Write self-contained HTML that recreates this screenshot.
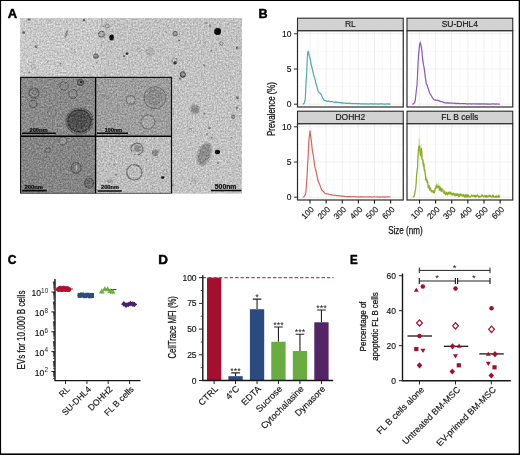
<!DOCTYPE html>
<html><head><meta charset="utf-8"><title>Figure</title>
<style>
html,body{margin:0;padding:0;background:#fff;}
body{width:520px;height:455px;overflow:hidden;}
svg{display:block;font-family:"Liberation Sans", sans-serif;}
.lbl{font-weight:bold;font-size:12.1px;fill:#000;stroke:#000;stroke-width:0.45px;stroke-linejoin:round;}
.tk{font-size:8.5px;fill:#111;stroke:#111;stroke-width:0.15px;}
.ax{stroke:#161616;fill:none;}
</style></head><body>
<svg width="520" height="455" viewBox="0 0 520 455">
<defs>
<filter id="grain" x="0" y="0" width="100%" height="100%" color-interpolation-filters="sRGB">
<feTurbulence type="fractalNoise" baseFrequency="0.63 0.58" numOctaves="3" seed="11" result="n"/>
<feColorMatrix in="n" type="matrix" values="1 0 0 0 0  1 0 0 0 0  1 0 0 0 0  0 0 0 0 1" result="g"/>
<feGaussianBlur in="SourceGraphic" stdDeviation="0.5" result="b"/>
<feComposite in="b" in2="g" operator="arithmetic" k1="0" k2="1" k3="0.38" k4="-0.19" result="c"/>
<feGaussianBlur in="c" stdDeviation="0.45"/>
</filter>
<clipPath id="cA"><rect x="20" y="18" width="222" height="175.5"/></clipPath>
</defs>
<rect x="0" y="0" width="520" height="455" fill="#fff"/>

<g id="panelA">
<text class="lbl" x="0" y="0" transform="translate(7.8,17.8) scale(1.07,1)">A</text>
<g clip-path="url(#cA)"><g filter="url(#grain)">
<rect x="20" y="18" width="222" height="175.5" fill="#c2c2c2"/>
<rect x="20" y="18" width="80" height="60" fill="#c8c8c8"/>
<ellipse cx="111.6" cy="37.5" rx="2.3" ry="3" fill="#111"/>
<ellipse cx="101.5" cy="34.2" rx="3" ry="3" fill="#aaa" stroke="#666" stroke-width="1"/>
<ellipse cx="107.3" cy="26" rx="2" ry="2" fill="#bbb" stroke="#777" stroke-width="0.8"/>
<ellipse cx="66.3" cy="34" rx="1.2" ry="4" fill="#888" transform="rotate(20 66.3 34)"/>
<ellipse cx="95.9" cy="56.2" rx="2.5" ry="2.5" fill="#888" stroke="#666" stroke-width="0.8"/>
<ellipse cx="127" cy="53.6" rx="1.3" ry="1.3" fill="#333"/>
<ellipse cx="124" cy="56" rx="1" ry="1" fill="#555"/>
<ellipse cx="23.7" cy="32.5" rx="1.3" ry="1.3" fill="#555"/>
<ellipse cx="36" cy="46.7" rx="1.5" ry="1.5" fill="#777"/>
<ellipse cx="33" cy="66.5" rx="2" ry="2" fill="#c4c4c4" stroke="#999" stroke-width="0.7"/>
<ellipse cx="73" cy="51" rx="2.2" ry="2.2" fill="#c8c8c8" stroke="#a5a5a5" stroke-width="0.7"/>
<ellipse cx="84" cy="20" rx="1.2" ry="1.2" fill="#666"/>
<ellipse cx="29" cy="19.5" rx="1.5" ry="1" fill="#666"/>
<ellipse cx="217.6" cy="31.6" rx="3.5" ry="3.5" fill="#0a0a0a"/>
<ellipse cx="175.2" cy="33.7" rx="2.3" ry="2.3" fill="#999" stroke="#666" stroke-width="0.9"/>
<ellipse cx="175" cy="62.7" rx="1.8" ry="1.5" fill="#222"/>
<ellipse cx="174.5" cy="60.5" rx="2.6" ry="2.6" fill="none" stroke="#777" stroke-width="0.8"/>
<ellipse cx="182.8" cy="74.6" rx="2.6" ry="2.8" fill="#888" stroke="#444" stroke-width="1"/>
<ellipse cx="150" cy="51.8" rx="4.5" ry="4.5" fill="#aaa" opacity="0.8"/>
<ellipse cx="221.3" cy="43.5" rx="1.6" ry="1.8" fill="#bbb" stroke="#777" stroke-width="0.8"/>
<ellipse cx="237.2" cy="48" rx="1.5" ry="1.5" fill="#777"/>
<ellipse cx="210" cy="26" rx="1.3" ry="2" fill="#999"/>
<ellipse cx="139" cy="50" rx="2" ry="2" fill="#c4c4c4" stroke="#999" stroke-width="0.7"/>
<ellipse cx="179" cy="40.5" rx="1" ry="1" fill="#666"/>
<ellipse cx="204.3" cy="154.2" rx="5.8" ry="10.8" fill="#787878" transform="rotate(20 204.3 154.2)"/>
<ellipse cx="204.3" cy="154.2" rx="7.5" ry="12.5" fill="#989898" transform="rotate(20 204.3 154.2)" opacity="0.6"/>
<ellipse cx="217.5" cy="152" rx="2.6" ry="2.3" fill="#0d0d0d"/>
<ellipse cx="195" cy="109.3" rx="4" ry="4" fill="#7c7c7c"/>
<ellipse cx="195" cy="109.3" rx="5.5" ry="5.5" fill="#999" opacity="0.5"/>
<ellipse cx="233.3" cy="116.7" rx="1.8" ry="1.8" fill="#999" stroke="#666" stroke-width="0.8"/>
<ellipse cx="237.3" cy="97.4" rx="1.5" ry="1.5" fill="#777"/>
<ellipse cx="237" cy="108" rx="1.4" ry="1.4" fill="#888"/>
<ellipse cx="204.5" cy="113.5" rx="1" ry="1" fill="#666"/>
<ellipse cx="209.5" cy="128" rx="1.2" ry="1.2" fill="#777"/>
<ellipse cx="207" cy="134" rx="1" ry="1" fill="#888"/>
<ellipse cx="190" cy="130" rx="1.8" ry="1.8" fill="#c2c2c2" stroke="#a0a0a0" stroke-width="0.6"/>
<ellipse cx="193" cy="180" rx="1.8" ry="1.8" fill="#c2c2c2" stroke="#a0a0a0" stroke-width="0.6"/>
<ellipse cx="180" cy="79" rx="1.5" ry="1.5" fill="#888"/>
<ellipse cx="218" cy="163" rx="1" ry="1" fill="#888"/>
<ellipse cx="195.4" cy="181.2" rx="0.94" ry="0.94" fill="#8a8a8a"/>
<ellipse cx="205.2" cy="152.7" rx="0.65" ry="0.65" fill="#8a8a8a"/>
<ellipse cx="218.4" cy="39.4" rx="0.78" ry="0.78" fill="#9c9c9c"/>
<ellipse cx="105.0" cy="37.4" rx="0.65" ry="0.65" fill="#9c9c9c"/>
<ellipse cx="111.0" cy="51.1" rx="1.02" ry="1.02" fill="#a6a6a6"/>
<ellipse cx="49.6" cy="20.3" rx="1.02" ry="1.02" fill="#9c9c9c"/>
<ellipse cx="190.6" cy="184.2" rx="0.6" ry="0.6" fill="#9c9c9c"/>
<ellipse cx="172.6" cy="185.3" rx="1.04" ry="1.04" fill="#7c7c7c"/>
<ellipse cx="226.0" cy="65.1" rx="0.7" ry="0.7" fill="#8a8a8a"/>
<ellipse cx="60.4" cy="63.8" rx="1.06" ry="1.06" fill="#7c7c7c"/>
<ellipse cx="206.2" cy="23.1" rx="0.97" ry="0.97" fill="#7c7c7c"/>
<ellipse cx="47.9" cy="62.1" rx="0.99" ry="0.99" fill="#a6a6a6"/>
<ellipse cx="195.8" cy="167.0" rx="0.52" ry="0.52" fill="#8a8a8a"/>
<ellipse cx="101.1" cy="45.3" rx="0.67" ry="0.67" fill="#8a8a8a"/>
<ellipse cx="90.1" cy="74.2" rx="0.61" ry="0.61" fill="#8a8a8a"/>
<ellipse cx="179.0" cy="33.8" rx="0.86" ry="0.86" fill="#a6a6a6"/>
<ellipse cx="97.0" cy="62.8" rx="0.89" ry="0.89" fill="#9c9c9c"/>
<ellipse cx="204.8" cy="42.3" rx="0.94" ry="0.94" fill="#9c9c9c"/>
<ellipse cx="239.8" cy="165.7" rx="1.09" ry="1.09" fill="#a6a6a6"/>
<ellipse cx="231.3" cy="137.8" rx="0.69" ry="0.69" fill="#7c7c7c"/>
<ellipse cx="237.5" cy="184.1" rx="0.88" ry="0.88" fill="#a6a6a6"/>
<ellipse cx="211.2" cy="50.8" rx="0.8" ry="0.8" fill="#7c7c7c"/>
<ellipse cx="29.5" cy="72.3" rx="0.84" ry="0.84" fill="#7c7c7c"/>
<ellipse cx="204.1" cy="65.3" rx="1.09" ry="1.09" fill="#7c7c7c"/>
<ellipse cx="230.6" cy="78.2" rx="0.61" ry="0.61" fill="#8a8a8a"/>
<ellipse cx="93.0" cy="66.8" rx="0.67" ry="0.67" fill="#7c7c7c"/>
<ellipse cx="182.8" cy="161.6" rx="0.71" ry="0.71" fill="#9c9c9c"/>
<ellipse cx="211.6" cy="137.7" rx="1.09" ry="1.09" fill="#7c7c7c"/>
<ellipse cx="226.3" cy="101.6" rx="0.91" ry="0.91" fill="#a6a6a6"/>
<ellipse cx="190.9" cy="128.9" rx="0.93" ry="0.93" fill="#8a8a8a"/>
<ellipse cx="158.0" cy="50.9" rx="0.96" ry="0.96" fill="#9c9c9c"/>
<ellipse cx="159.5" cy="27.2" rx="0.78" ry="0.78" fill="#9c9c9c"/>
<ellipse cx="166.4" cy="32.3" rx="0.62" ry="0.62" fill="#7c7c7c"/>
<ellipse cx="103.5" cy="26.2" rx="0.87" ry="0.87" fill="#8a8a8a"/>
<ellipse cx="229.3" cy="70.1" rx="0.71" ry="0.71" fill="#9c9c9c"/>
<ellipse cx="233.0" cy="124.1" rx="0.71" ry="0.71" fill="#8a8a8a"/>
<ellipse cx="105.2" cy="75.8" rx="1.05" ry="1.05" fill="#9c9c9c"/>
<ellipse cx="234.9" cy="104.4" rx="0.79" ry="0.79" fill="#a6a6a6"/>
<ellipse cx="183.5" cy="71.4" rx="0.65" ry="0.65" fill="#8a8a8a"/>
<rect x="20" y="77" width="76" height="59" fill="#8a8a8a"/>
<rect x="95" y="77" width="77" height="59" fill="#9e9e9e"/>
<rect x="20" y="135.5" width="76" height="58" fill="#858585"/>
<rect x="95" y="135.5" width="77" height="58" fill="#bdbdbd"/>
<ellipse cx="79.5" cy="121" rx="13.5" ry="13" fill="#7c7c7c" stroke="#5a5a5a" stroke-width="1.1"/>
<ellipse cx="79.5" cy="121" rx="11.5" ry="11" fill="#5a5a5a" stroke="#3c3c3c" stroke-width="1.6"/>
<ellipse cx="79" cy="120" rx="8.5" ry="8" fill="#4c4c4c"/>
<ellipse cx="64" cy="86" rx="4.2" ry="4.2" fill="none" stroke="#5a5a5a" stroke-width="0.9"/>
<ellipse cx="73" cy="94" rx="4.2" ry="4.5" fill="none" stroke="#5a5a5a" stroke-width="0.9"/>
<ellipse cx="80.5" cy="82.5" rx="3" ry="3" fill="#777" stroke="#4a4a4a" stroke-width="1.1"/>
<ellipse cx="81" cy="82" rx="1.3" ry="1.3" fill="#333"/>
<ellipse cx="34" cy="93" rx="5" ry="5" fill="none" stroke="#5a5a5a" stroke-width="1.2"/>
<ellipse cx="34.5" cy="92.5" rx="2.2" ry="2.2" fill="none" stroke="#666" stroke-width="0.9"/>
<ellipse cx="33" cy="104" rx="4" ry="3.6" fill="none" stroke="#5e5e5e" stroke-width="1.1"/>
<ellipse cx="52" cy="112" rx="4.5" ry="5" fill="none" stroke="#777" stroke-width="0.8"/>
<ellipse cx="155" cy="97.7" rx="11" ry="11" fill="#969696" stroke="#6a6a6a" stroke-width="1"/>
<ellipse cx="154.5" cy="97.5" rx="7" ry="7.5" fill="#8c8c8c" stroke="#757575" stroke-width="0.8"/>
<ellipse cx="130.8" cy="100" rx="4.5" ry="4.2" fill="#acacac" stroke="#6e6e6e" stroke-width="1.2"/>
<ellipse cx="148" cy="122" rx="7" ry="7" fill="#a6a6a6" stroke="#747474" stroke-width="1.1"/>
<ellipse cx="105" cy="96" rx="5" ry="1" fill="#8a8a8a" transform="rotate(15 105 96)"/>
<ellipse cx="63" cy="141" rx="4" ry="4" fill="#959595" stroke="#636363" stroke-width="1"/>
<ellipse cx="48" cy="150" rx="2.6" ry="2.6" fill="#7a7a7a" stroke="#686868" stroke-width="0.8"/>
<ellipse cx="76" cy="168" rx="5" ry="5.5" fill="#7a7a7a" stroke="#5a5a5a" stroke-width="1.2"/>
<ellipse cx="76.5" cy="168" rx="0.8" ry="3" fill="#bbb"/>
<ellipse cx="89" cy="183" rx="4.5" ry="5" fill="#6e6e6e" stroke="#5a5a5a" stroke-width="1.2"/>
<ellipse cx="34" cy="180" rx="5" ry="4" fill="#808080" opacity="0.8"/>
<ellipse cx="137" cy="149" rx="6" ry="5.8" fill="#b8b8b8" stroke="#707070" stroke-width="1.3"/>
<ellipse cx="137.5" cy="148.5" rx="3.6" ry="3.4" fill="#8e8e8e"/>
<ellipse cx="134.3" cy="172.3" rx="7.6" ry="7.6" fill="#bcbcbc" stroke="#747474" stroke-width="1.4"/>
<ellipse cx="155.3" cy="152.8" rx="3" ry="3" fill="#888" stroke="#777" stroke-width="0.6"/>
<ellipse cx="162.9" cy="177.5" rx="2" ry="1.6" fill="#222"/>
<ellipse cx="165" cy="172" rx="2.2" ry="2.2" fill="#c4c4c4" stroke="#8a8a8a" stroke-width="0.8"/>
<ellipse cx="110" cy="181" rx="3" ry="2" fill="#999"/>
<ellipse cx="147" cy="160" rx="1.2" ry="1.2" fill="#888"/>
<ellipse cx="114" cy="165" rx="1" ry="1" fill="#888"/>
<ellipse cx="116" cy="175" rx="1" ry="1" fill="#808080"/>
<ellipse cx="133.4" cy="152.9" rx="1.48" ry="1.48" fill="#cacaca" stroke="#adadad" stroke-width="0.5"/>
<ellipse cx="106.8" cy="170.3" rx="1.44" ry="1.44" fill="#cacaca" stroke="#adadad" stroke-width="0.5"/>
<ellipse cx="119.1" cy="178.6" rx="1.83" ry="1.83" fill="#cacaca" stroke="#adadad" stroke-width="0.5"/>
<ellipse cx="99.0" cy="165.7" rx="1.27" ry="1.27" fill="#cacaca" stroke="#adadad" stroke-width="0.5"/>
<ellipse cx="165.3" cy="178.7" rx="1.25" ry="1.25" fill="#cacaca" stroke="#adadad" stroke-width="0.5"/>
<ellipse cx="117.3" cy="146.0" rx="1.99" ry="1.99" fill="#cacaca" stroke="#adadad" stroke-width="0.5"/>
<ellipse cx="119.1" cy="169.6" rx="1.47" ry="1.47" fill="#cacaca" stroke="#adadad" stroke-width="0.5"/>
<ellipse cx="144.4" cy="169.4" rx="1.74" ry="1.74" fill="#cacaca" stroke="#adadad" stroke-width="0.5"/>
<ellipse cx="106.5" cy="177.5" rx="1.3" ry="1.3" fill="#cacaca" stroke="#adadad" stroke-width="0.5"/>
<ellipse cx="136.4" cy="155.5" rx="1.3" ry="1.3" fill="#cacaca" stroke="#adadad" stroke-width="0.5"/>
<ellipse cx="136.2" cy="162.1" rx="1.36" ry="1.36" fill="#cacaca" stroke="#adadad" stroke-width="0.5"/>
<ellipse cx="151.6" cy="168.7" rx="1.04" ry="1.04" fill="#cacaca" stroke="#adadad" stroke-width="0.5"/>
<ellipse cx="116.2" cy="161.7" rx="1.92" ry="1.92" fill="#cacaca" stroke="#adadad" stroke-width="0.5"/>
<ellipse cx="161.9" cy="166.4" rx="1.01" ry="1.01" fill="#cacaca" stroke="#adadad" stroke-width="0.5"/>
<ellipse cx="154.0" cy="160.2" rx="1.58" ry="1.58" fill="#cacaca" stroke="#adadad" stroke-width="0.5"/>
<ellipse cx="149.0" cy="170.9" rx="1.48" ry="1.48" fill="#cacaca" stroke="#adadad" stroke-width="0.5"/>
<ellipse cx="163.6" cy="158.0" rx="1.39" ry="1.39" fill="#cacaca" stroke="#adadad" stroke-width="0.5"/>
<ellipse cx="159.3" cy="148.2" rx="1.3" ry="1.3" fill="#cacaca" stroke="#adadad" stroke-width="0.5"/>
<ellipse cx="157.8" cy="141.4" rx="1.84" ry="1.84" fill="#cacaca" stroke="#adadad" stroke-width="0.5"/>
<ellipse cx="148.0" cy="160.5" rx="1.29" ry="1.29" fill="#cacaca" stroke="#adadad" stroke-width="0.5"/>
<ellipse cx="154.2" cy="185.4" rx="1.14" ry="1.14" fill="#cacaca" stroke="#adadad" stroke-width="0.5"/>
<ellipse cx="132.4" cy="166.6" rx="1.5" ry="1.5" fill="#cacaca" stroke="#adadad" stroke-width="0.5"/>
<ellipse cx="121.8" cy="146.0" rx="1.59" ry="1.59" fill="#cacaca" stroke="#adadad" stroke-width="0.5"/>
<ellipse cx="156.5" cy="141.6" rx="1.23" ry="1.23" fill="#cacaca" stroke="#adadad" stroke-width="0.5"/>
<ellipse cx="157.0" cy="179.2" rx="1.66" ry="1.66" fill="#cacaca" stroke="#adadad" stroke-width="0.5"/>
</g>
<rect x="20.5" y="77.4" width="151" height="116.1" fill="none" stroke="#111" stroke-width="1.2"/>
<line x1="95.6" y1="77" x2="95.6" y2="193.5" stroke="#000" stroke-width="1.3"/>
<line x1="20.5" y1="136.3" x2="171.5" y2="136.3" stroke="#000" stroke-width="1.4"/>
<line x1="22" y1="133.3" x2="55.8" y2="133.3" stroke="#0a0a0a" stroke-width="1.6"/>
<text x="38.5" y="131.6" font-size="5.6" font-weight="bold" fill="#0a0a0a" stroke="#0a0a0a" stroke-width="0.2" text-anchor="middle" textLength="18" lengthAdjust="spacingAndGlyphs">200nm</text>
<line x1="97" y1="133.3" x2="128" y2="133.3" stroke="#0a0a0a" stroke-width="1.6"/>
<text x="113.5" y="131.6" font-size="5.6" font-weight="bold" fill="#0a0a0a" stroke="#0a0a0a" stroke-width="0.2" text-anchor="middle" textLength="17.5" lengthAdjust="spacingAndGlyphs">100nm</text>
<line x1="22.2" y1="190.6" x2="46.8" y2="190.6" stroke="#0a0a0a" stroke-width="1.6"/>
<text x="33.8" y="188.8" font-size="5.6" font-weight="bold" fill="#0a0a0a" stroke="#0a0a0a" stroke-width="0.2" text-anchor="middle" textLength="18.5" lengthAdjust="spacingAndGlyphs">200nm</text>
<line x1="97.7" y1="191" x2="121.7" y2="191" stroke="#0a0a0a" stroke-width="1.6"/>
<text x="110" y="189.2" font-size="5.6" font-weight="bold" fill="#0a0a0a" stroke="#0a0a0a" stroke-width="0.2" text-anchor="middle" textLength="18" lengthAdjust="spacingAndGlyphs">200nm</text>
<line x1="211" y1="190.5" x2="241.5" y2="190.5" stroke="#0a0a0a" stroke-width="1.6"/>
<text x="225.6" y="188.6" font-size="7.2" font-weight="bold" fill="#0a0a0a" stroke="#0a0a0a" stroke-width="0.2" text-anchor="middle" textLength="21.5" lengthAdjust="spacingAndGlyphs">500nm</text>
</g></g>
<g id="panelB">
<text class="lbl" x="0" y="0" transform="translate(258.5,17.8) scale(1.04,1)">B</text>
<rect x="297.5" y="18.2" width="105.75" height="12.6" fill="#d2d2d2" stroke="#2a2a2a" stroke-width="1.1"/>
<text x="350.375" y="27.1" font-size="8.5" fill="#111" stroke="#111" stroke-width="0.15" text-anchor="middle">RL</text>
<rect x="297.5" y="30.799999999999997" width="105.75" height="76.2" fill="#fff"/>
<line x1="301.94" y1="30.799999999999997" x2="301.94" y2="107.0" stroke="#f2f2f2" stroke-width="0.5"/>
<line x1="310.00" y1="30.799999999999997" x2="310.00" y2="107.0" stroke="#e9e9e9" stroke-width="0.7"/>
<line x1="318.06" y1="30.799999999999997" x2="318.06" y2="107.0" stroke="#f2f2f2" stroke-width="0.5"/>
<line x1="326.12" y1="30.799999999999997" x2="326.12" y2="107.0" stroke="#e9e9e9" stroke-width="0.7"/>
<line x1="334.18" y1="30.799999999999997" x2="334.18" y2="107.0" stroke="#f2f2f2" stroke-width="0.5"/>
<line x1="342.24" y1="30.799999999999997" x2="342.24" y2="107.0" stroke="#e9e9e9" stroke-width="0.7"/>
<line x1="350.30" y1="30.799999999999997" x2="350.30" y2="107.0" stroke="#f2f2f2" stroke-width="0.5"/>
<line x1="358.36" y1="30.799999999999997" x2="358.36" y2="107.0" stroke="#e9e9e9" stroke-width="0.7"/>
<line x1="366.42" y1="30.799999999999997" x2="366.42" y2="107.0" stroke="#f2f2f2" stroke-width="0.5"/>
<line x1="374.48" y1="30.799999999999997" x2="374.48" y2="107.0" stroke="#e9e9e9" stroke-width="0.7"/>
<line x1="382.54" y1="30.799999999999997" x2="382.54" y2="107.0" stroke="#f2f2f2" stroke-width="0.5"/>
<line x1="390.60" y1="30.799999999999997" x2="390.60" y2="107.0" stroke="#e9e9e9" stroke-width="0.7"/>
<line x1="398.66" y1="30.799999999999997" x2="398.66" y2="107.0" stroke="#f2f2f2" stroke-width="0.5"/>
<line x1="297.5" y1="104.20" x2="403.25" y2="104.20" stroke="#e9e9e9" stroke-width="0.7"/>
<line x1="297.5" y1="86.60" x2="403.25" y2="86.60" stroke="#f2f2f2" stroke-width="0.5"/>
<line x1="297.5" y1="69.00" x2="403.25" y2="69.00" stroke="#e9e9e9" stroke-width="0.7"/>
<line x1="297.5" y1="51.40" x2="403.25" y2="51.40" stroke="#f2f2f2" stroke-width="0.5"/>
<line x1="297.5" y1="33.80" x2="403.25" y2="33.80" stroke="#e9e9e9" stroke-width="0.7"/>
<path d="M302.75,103.70 L303.23,103.68 L303.71,103.39 L304.20,102.50 L304.68,101.07 L305.16,99.57 L305.65,90.89 L306.13,78.86 L306.61,72.62 L307.10,61.19 L307.58,52.14 L308.07,49.36 L308.55,49.42 L309.03,51.38 L309.52,54.59 L310.00,54.46 L310.48,57.81 L310.97,60.59 L311.45,63.49 L311.93,64.89 L312.42,67.59 L312.90,69.70 L313.39,71.68 L313.87,74.18 L314.35,75.56 L314.84,77.32 L315.32,78.94 L315.80,81.37 L316.29,83.05 L316.77,85.14 L317.25,86.88 L317.74,88.25 L318.22,90.35 L318.70,91.75 L319.19,92.15 L319.67,92.34 L320.16,92.36 L320.64,93.18 L321.12,93.57 L321.61,94.34 L322.09,96.14 L322.57,97.79 L323.06,97.88 L323.54,98.84 L324.02,99.79 L324.51,99.85 L324.99,100.07 L325.48,100.21 L325.96,100.26 L326.44,100.52 L326.93,101.06 L327.41,100.75 L327.89,100.64 L328.38,100.41 L328.86,100.92 L329.34,100.97 L329.83,101.32 L330.31,100.98 L330.79,101.04 L331.28,101.40 L331.76,101.35 L332.25,101.14 L332.73,101.07 L333.21,101.59 L333.70,101.65 L334.18,101.96 L334.66,101.75 L335.15,101.32 L335.63,101.95 L336.11,101.70 L336.60,101.57 L337.08,101.76 L337.57,101.70 L338.05,102.05 L338.53,101.96 L339.02,101.88 L339.50,102.31 L339.98,101.96 L340.47,102.41 L340.95,102.73 L341.43,102.12 L341.92,102.28 L342.40,102.60 L342.88,102.51 L343.37,102.45 L343.85,102.41 L344.34,102.82 L344.82,102.80 L345.30,102.64 L345.79,103.12 L346.27,102.91 L346.75,102.55 L347.24,103.07 L347.72,103.08 L348.20,102.84 L348.69,103.08 L349.17,102.63 L349.66,103.30 L350.14,102.80 L350.62,103.08 L351.11,103.26 L351.59,102.99 L352.07,102.98 L352.56,103.25 L353.04,103.09 L353.52,103.32 L354.01,103.12 L354.49,103.53 L354.97,103.38 L355.46,103.28 L355.94,103.14 L356.43,103.18 L356.91,103.25 L357.39,103.00 L357.88,103.52 L358.36,103.31 L358.84,103.39 L359.33,103.11 L359.81,103.18 L360.29,103.60 L360.78,103.29 L361.26,103.47 L361.75,103.43 L362.23,103.53 L362.71,103.76 L363.20,103.48 L363.68,103.67 L364.16,103.45 L364.65,103.48 L365.13,103.68 L365.61,103.44 L366.10,103.49 L366.58,103.61 L367.06,103.31 L367.55,103.54 L368.03,103.68 L368.52,103.55 L369.00,103.52 L369.48,103.49 L369.97,103.34 L370.45,103.30 L370.93,103.74 L371.42,103.59 L371.90,103.50 L372.38,103.60 L372.87,103.22 L373.35,103.49 L373.84,103.60 L374.32,103.41 L374.80,103.20 L375.29,103.46 L375.77,103.79 L376.25,103.52 L376.74,103.76 L377.22,103.60 L377.70,103.74 L378.19,103.50 L378.67,103.81 L379.15,103.67 L379.64,103.42 L380.12,103.39 L380.61,103.36 L381.09,103.75 L381.57,103.64 L382.06,103.43 L382.54,103.57 L383.02,103.68 L383.51,103.69 L383.99,103.69 L384.47,103.58 L384.96,103.60 L385.44,103.97 L385.93,103.47 L386.41,103.47 L386.89,103.56 L387.38,103.53 L387.86,103.61 L388.34,103.87 L388.83,103.58 L389.31,103.43 L389.79,103.59 L390.28,103.57 L390.28,104.20 L389.79,104.20 L389.31,104.20 L388.83,104.20 L388.34,104.20 L387.86,104.20 L387.38,104.07 L386.89,104.20 L386.41,104.20 L385.93,104.20 L385.44,104.20 L384.96,104.20 L384.47,104.20 L383.99,104.20 L383.51,104.20 L383.02,104.20 L382.54,104.13 L382.06,104.20 L381.57,104.20 L381.09,104.20 L380.61,104.18 L380.12,104.11 L379.64,104.20 L379.15,104.20 L378.67,104.20 L378.19,104.20 L377.70,104.20 L377.22,104.20 L376.74,104.20 L376.25,104.11 L375.77,104.20 L375.29,104.05 L374.80,104.05 L374.32,104.18 L373.84,104.20 L373.35,104.20 L372.87,104.08 L372.38,104.20 L371.90,104.15 L371.42,104.17 L370.93,104.20 L370.45,103.94 L369.97,104.20 L369.48,104.20 L369.00,104.20 L368.52,104.20 L368.03,104.20 L367.55,104.18 L367.06,104.20 L366.58,104.19 L366.10,104.10 L365.61,104.18 L365.13,104.20 L364.65,104.16 L364.16,104.20 L363.68,104.15 L363.20,104.10 L362.71,104.20 L362.23,104.15 L361.75,104.20 L361.26,104.20 L360.78,104.00 L360.29,104.20 L359.81,104.04 L359.33,104.06 L358.84,103.88 L358.36,104.09 L357.88,104.20 L357.39,103.80 L356.91,103.92 L356.43,103.91 L355.94,103.91 L355.46,104.01 L354.97,103.82 L354.49,104.04 L354.01,103.82 L353.52,104.00 L353.04,104.08 L352.56,103.87 L352.07,103.90 L351.59,103.91 L351.11,103.78 L350.62,103.73 L350.14,103.62 L349.66,103.97 L349.17,103.70 L348.69,103.63 L348.20,103.53 L347.72,103.51 L347.24,103.70 L346.75,103.41 L346.27,103.80 L345.79,103.84 L345.30,103.25 L344.82,103.29 L344.34,103.31 L343.85,103.18 L343.37,103.14 L342.88,103.48 L342.40,103.14 L341.92,103.15 L341.43,103.00 L340.95,103.45 L340.47,103.12 L339.98,103.08 L339.50,103.15 L339.02,102.81 L338.53,102.73 L338.05,102.58 L337.57,102.67 L337.08,102.83 L336.60,102.70 L336.11,102.38 L335.63,102.87 L335.15,102.20 L334.66,102.55 L334.18,102.68 L333.70,102.57 L333.21,102.34 L332.73,102.22 L332.25,101.93 L331.76,102.12 L331.28,102.00 L330.79,102.23 L330.31,101.91 L329.83,102.28 L329.34,101.84 L328.86,101.88 L328.38,101.48 L327.89,101.49 L327.41,101.58 L326.93,101.63 L326.44,101.64 L325.96,101.44 L325.48,101.02 L324.99,100.86 L324.51,100.94 L324.02,100.69 L323.54,99.65 L323.06,98.70 L322.57,98.45 L322.09,97.73 L321.61,96.11 L321.12,95.33 L320.64,94.17 L320.16,94.09 L319.67,93.71 L319.19,93.50 L318.70,93.24 L318.22,92.11 L317.74,90.64 L317.25,88.56 L316.77,87.07 L316.29,85.92 L315.80,83.98 L315.32,82.43 L314.84,79.56 L314.35,79.30 L313.87,76.63 L313.39,75.32 L312.90,72.73 L312.42,71.48 L311.93,69.05 L311.45,66.80 L310.97,65.89 L310.48,62.06 L310.00,59.77 L309.52,59.15 L309.03,57.97 L308.55,54.67 L308.07,52.86 L307.58,55.72 L307.10,65.08 L306.61,75.07 L306.13,81.92 L305.65,91.86 L305.16,100.62 L304.68,101.72 L304.20,103.40 L303.71,104.10 L303.23,104.20 L302.75,104.20Z" fill="#4cacb5" opacity="0.35"/>
<path d="M302.75,104.20 L303.23,104.06 L303.71,103.88 L304.20,103.06 L304.68,101.31 L305.16,99.98 L305.65,91.38 L306.13,80.86 L306.61,74.19 L307.10,63.24 L307.58,54.03 L308.07,51.48 L308.55,52.18 L309.03,55.17 L309.52,56.65 L310.00,57.88 L310.48,60.45 L310.97,63.55 L311.45,65.73 L311.93,67.48 L312.42,69.59 L312.90,71.28 L313.39,73.85 L313.87,75.79 L314.35,77.44 L314.84,78.64 L315.32,80.99 L315.80,83.13 L316.29,84.81 L316.77,86.04 L317.25,87.43 L317.74,89.63 L318.22,91.29 L318.70,92.25 L319.19,92.76 L319.67,93.07 L320.16,93.31 L320.64,93.62 L321.12,94.44 L321.61,95.31 L322.09,97.06 L322.57,98.12 L323.06,98.35 L323.54,99.33 L324.02,100.36 L324.51,100.50 L324.99,100.59 L325.48,100.69 L325.96,100.99 L326.44,101.09 L326.93,101.33 L327.41,101.08 L327.89,101.16 L328.38,101.05 L328.86,101.49 L329.34,101.38 L329.83,101.71 L330.31,101.37 L330.79,101.73 L331.28,101.76 L331.76,101.61 L332.25,101.64 L332.73,101.76 L333.21,101.99 L333.70,102.19 L334.18,102.24 L334.66,102.21 L335.15,101.97 L335.63,102.33 L336.11,102.09 L336.60,102.18 L337.08,102.39 L337.57,102.37 L338.05,102.31 L338.53,102.27 L339.02,102.48 L339.50,102.66 L339.98,102.59 L340.47,102.87 L340.95,102.98 L341.43,102.69 L341.92,102.83 L342.40,102.90 L342.88,103.10 L343.37,102.85 L343.85,102.97 L344.34,103.07 L344.82,103.02 L345.30,103.02 L345.79,103.42 L346.27,103.49 L346.75,103.13 L347.24,103.47 L347.72,103.30 L348.20,103.16 L348.69,103.41 L349.17,103.22 L349.66,103.59 L350.14,103.22 L350.62,103.38 L351.11,103.56 L351.59,103.59 L352.07,103.44 L352.56,103.58 L353.04,103.63 L353.52,103.65 L354.01,103.55 L354.49,103.82 L354.97,103.61 L355.46,103.59 L355.94,103.67 L356.43,103.69 L356.91,103.51 L357.39,103.52 L357.88,103.92 L358.36,103.85 L358.84,103.60 L359.33,103.62 L359.81,103.66 L360.29,103.96 L360.78,103.74 L361.26,104.03 L361.75,103.83 L362.23,103.87 L362.71,103.96 L363.20,103.89 L363.68,103.92 L364.16,103.96 L364.65,103.91 L365.13,104.08 L365.61,103.80 L366.10,103.77 L366.58,103.88 L367.06,103.85 L367.55,103.98 L368.03,104.07 L368.52,104.04 L369.00,103.97 L369.48,103.95 L369.97,103.86 L370.45,103.71 L370.93,104.02 L371.42,103.80 L371.90,103.82 L372.38,104.06 L372.87,103.72 L373.35,104.03 L373.84,104.09 L374.32,103.87 L374.80,103.76 L375.29,103.82 L375.77,104.03 L376.25,103.76 L376.74,104.00 L377.22,104.07 L377.70,104.10 L378.19,103.92 L378.67,104.10 L379.15,104.08 L379.64,103.91 L380.12,103.79 L380.61,103.84 L381.09,104.05 L381.57,103.87 L382.06,103.99 L382.54,103.81 L383.02,103.98 L383.51,104.08 L383.99,104.05 L384.47,104.07 L384.96,104.03 L385.44,104.16 L385.93,103.99 L386.41,104.03 L386.89,103.90 L387.38,103.84 L387.86,104.00 L388.34,104.20 L388.83,104.09 L389.31,103.95 L389.79,104.06 L390.28,103.99" fill="none" stroke="#4cacb5" stroke-width="1.2" stroke-linejoin="round"/>
<rect x="297.5" y="30.799999999999997" width="105.75" height="76.2" fill="none" stroke="#2a2a2a" stroke-width="1.2"/>
<line x1="294.0" y1="104.20" x2="297.5" y2="104.20" stroke="#2a2a2a" stroke-width="1"/>
<text class="tk" x="291.5" y="107.30" text-anchor="end">0</text>
<line x1="294.0" y1="69.00" x2="297.5" y2="69.00" stroke="#2a2a2a" stroke-width="1"/>
<text class="tk" x="291.5" y="72.10" text-anchor="end">5</text>
<line x1="294.0" y1="33.80" x2="297.5" y2="33.80" stroke="#2a2a2a" stroke-width="1"/>
<text class="tk" x="291.5" y="36.90" text-anchor="end">10</text>
<rect x="407" y="18.2" width="105.75" height="12.6" fill="#d2d2d2" stroke="#2a2a2a" stroke-width="1.1"/>
<text x="459.875" y="27.1" font-size="8.5" fill="#111" stroke="#111" stroke-width="0.15" text-anchor="middle">SU-DHL4</text>
<rect x="407" y="30.799999999999997" width="105.75" height="76.2" fill="#fff"/>
<line x1="411.44" y1="30.799999999999997" x2="411.44" y2="107.0" stroke="#f2f2f2" stroke-width="0.5"/>
<line x1="419.50" y1="30.799999999999997" x2="419.50" y2="107.0" stroke="#e9e9e9" stroke-width="0.7"/>
<line x1="427.56" y1="30.799999999999997" x2="427.56" y2="107.0" stroke="#f2f2f2" stroke-width="0.5"/>
<line x1="435.62" y1="30.799999999999997" x2="435.62" y2="107.0" stroke="#e9e9e9" stroke-width="0.7"/>
<line x1="443.68" y1="30.799999999999997" x2="443.68" y2="107.0" stroke="#f2f2f2" stroke-width="0.5"/>
<line x1="451.74" y1="30.799999999999997" x2="451.74" y2="107.0" stroke="#e9e9e9" stroke-width="0.7"/>
<line x1="459.80" y1="30.799999999999997" x2="459.80" y2="107.0" stroke="#f2f2f2" stroke-width="0.5"/>
<line x1="467.86" y1="30.799999999999997" x2="467.86" y2="107.0" stroke="#e9e9e9" stroke-width="0.7"/>
<line x1="475.92" y1="30.799999999999997" x2="475.92" y2="107.0" stroke="#f2f2f2" stroke-width="0.5"/>
<line x1="483.98" y1="30.799999999999997" x2="483.98" y2="107.0" stroke="#e9e9e9" stroke-width="0.7"/>
<line x1="492.04" y1="30.799999999999997" x2="492.04" y2="107.0" stroke="#f2f2f2" stroke-width="0.5"/>
<line x1="500.10" y1="30.799999999999997" x2="500.10" y2="107.0" stroke="#e9e9e9" stroke-width="0.7"/>
<line x1="508.16" y1="30.799999999999997" x2="508.16" y2="107.0" stroke="#f2f2f2" stroke-width="0.5"/>
<line x1="407" y1="104.20" x2="512.75" y2="104.20" stroke="#e9e9e9" stroke-width="0.7"/>
<line x1="407" y1="86.60" x2="512.75" y2="86.60" stroke="#f2f2f2" stroke-width="0.5"/>
<line x1="407" y1="69.00" x2="512.75" y2="69.00" stroke="#e9e9e9" stroke-width="0.7"/>
<line x1="407" y1="51.40" x2="512.75" y2="51.40" stroke="#f2f2f2" stroke-width="0.5"/>
<line x1="407" y1="33.80" x2="512.75" y2="33.80" stroke="#e9e9e9" stroke-width="0.7"/>
<path d="M412.25,103.74 L412.73,103.65 L413.21,103.65 L413.70,103.37 L414.18,102.83 L414.66,102.01 L415.15,100.40 L415.63,96.51 L416.11,91.29 L416.60,87.60 L417.08,84.12 L417.57,72.64 L418.05,60.59 L418.53,52.16 L419.02,46.81 L419.50,41.90 L419.98,41.12 L420.47,40.14 L420.95,42.23 L421.43,45.06 L421.92,49.00 L422.40,54.35 L422.89,58.84 L423.37,61.73 L423.85,64.51 L424.34,68.07 L424.82,71.15 L425.30,75.89 L425.79,79.29 L426.27,82.38 L426.75,83.14 L427.24,84.05 L427.72,85.81 L428.20,87.77 L428.69,89.32 L429.17,90.74 L429.66,92.57 L430.14,93.41 L430.62,93.94 L431.11,94.99 L431.59,95.26 L432.07,96.93 L432.56,97.22 L433.04,97.90 L433.52,98.75 L434.01,99.33 L434.49,99.43 L434.98,99.70 L435.46,99.55 L435.94,99.99 L436.43,100.16 L436.91,100.18 L437.39,99.61 L437.88,99.72 L438.36,100.10 L438.84,99.97 L439.33,100.50 L439.81,101.00 L440.29,100.97 L440.78,101.45 L441.26,101.33 L441.75,101.45 L442.23,101.20 L442.71,101.61 L443.20,101.83 L443.68,102.03 L444.16,101.93 L444.65,102.15 L445.13,102.50 L445.61,102.39 L446.10,102.68 L446.58,102.58 L447.07,102.76 L447.55,102.47 L448.03,102.66 L448.52,102.51 L449.00,102.93 L449.48,102.44 L449.97,102.78 L450.45,102.53 L450.93,102.85 L451.42,102.91 L451.90,102.54 L452.38,102.81 L452.87,103.02 L453.35,102.74 L453.84,103.00 L454.32,102.94 L454.80,103.40 L455.29,102.83 L455.77,103.30 L456.25,103.08 L456.74,103.31 L457.22,103.19 L457.70,103.16 L458.19,103.13 L458.67,102.88 L459.16,103.39 L459.64,103.05 L460.12,103.24 L460.61,103.01 L461.09,103.13 L461.57,103.13 L462.06,103.24 L462.54,103.31 L463.02,103.45 L463.51,103.14 L463.99,103.40 L464.47,103.26 L464.96,103.38 L465.44,103.42 L465.93,103.51 L466.41,103.59 L466.89,103.57 L467.38,103.47 L467.86,103.73 L468.34,103.38 L468.83,103.52 L469.31,103.71 L469.79,103.56 L470.28,103.49 L470.76,103.34 L471.25,103.78 L471.73,103.84 L472.21,103.44 L472.70,103.67 L473.18,103.63 L473.66,103.45 L474.15,103.53 L474.63,103.43 L475.11,103.59 L475.60,103.64 L476.08,103.44 L476.56,103.74 L477.05,103.56 L477.53,103.52 L478.02,103.84 L478.50,103.78 L478.98,103.32 L479.47,103.43 L479.95,103.89 L480.43,103.60 L480.92,103.60 L481.40,103.61 L481.88,103.59 L482.37,103.58 L482.85,103.46 L483.34,103.38 L483.82,103.70 L484.30,103.75 L484.79,103.51 L485.27,103.60 L485.75,103.98 L486.24,103.59 L486.72,103.58 L487.20,103.68 L487.69,103.72 L488.17,103.62 L488.65,103.93 L489.14,103.80 L489.62,103.88 L490.11,103.80 L490.59,103.99 L491.07,103.64 L491.56,103.58 L492.04,103.55 L492.52,103.53 L493.01,103.72 L493.49,103.64 L493.97,103.35 L494.46,103.76 L494.94,104.00 L495.43,103.74 L495.91,103.68 L496.39,103.76 L496.88,103.90 L497.36,103.79 L497.84,103.81 L498.33,103.85 L498.81,103.88 L499.29,103.73 L499.78,103.67 L499.78,104.20 L499.29,104.20 L498.81,104.20 L498.33,104.20 L497.84,104.20 L497.36,104.20 L496.88,104.20 L496.39,104.11 L495.91,104.10 L495.43,104.20 L494.94,104.20 L494.46,104.20 L493.97,104.18 L493.49,104.20 L493.01,104.20 L492.52,104.09 L492.04,104.16 L491.56,104.20 L491.07,104.20 L490.59,104.20 L490.11,104.20 L489.62,104.20 L489.14,104.20 L488.65,104.20 L488.17,104.20 L487.69,104.20 L487.20,104.20 L486.72,104.17 L486.24,104.20 L485.75,104.20 L485.27,104.20 L484.79,104.06 L484.30,104.20 L483.82,104.20 L483.34,104.17 L482.85,104.20 L482.37,104.20 L481.88,104.20 L481.40,104.20 L480.92,104.18 L480.43,104.13 L479.95,104.20 L479.47,104.13 L478.98,104.04 L478.50,104.20 L478.02,104.20 L477.53,104.05 L477.05,104.20 L476.56,104.20 L476.08,104.04 L475.60,104.20 L475.11,104.09 L474.63,104.06 L474.15,104.10 L473.66,104.09 L473.18,104.20 L472.70,104.20 L472.21,104.01 L471.73,104.20 L471.25,104.20 L470.76,103.98 L470.28,104.10 L469.79,104.12 L469.31,104.07 L468.83,104.02 L468.34,104.07 L467.86,104.20 L467.38,104.14 L466.89,104.20 L466.41,104.20 L465.93,104.10 L465.44,103.99 L464.96,103.94 L464.47,104.01 L463.99,103.96 L463.51,103.92 L463.02,103.90 L462.54,104.10 L462.06,103.80 L461.57,103.87 L461.09,103.87 L460.61,103.84 L460.12,103.84 L459.64,103.74 L459.16,103.89 L458.67,103.63 L458.19,103.81 L457.70,103.81 L457.22,103.69 L456.74,104.07 L456.25,103.70 L455.77,103.89 L455.29,103.43 L454.80,104.00 L454.32,103.44 L453.84,103.47 L453.35,103.56 L452.87,103.57 L452.38,103.33 L451.90,103.41 L451.42,103.57 L450.93,103.57 L450.45,103.27 L449.97,103.31 L449.48,103.28 L449.00,103.36 L448.52,103.25 L448.03,103.34 L447.55,103.06 L447.07,103.33 L446.58,103.17 L446.10,103.32 L445.61,103.24 L445.13,103.15 L444.65,102.99 L444.16,102.82 L443.68,102.82 L443.20,102.48 L442.71,102.26 L442.23,102.02 L441.75,102.20 L441.26,102.02 L440.78,102.03 L440.29,101.52 L439.81,101.64 L439.33,101.17 L438.84,100.82 L438.36,101.03 L437.88,100.44 L437.39,100.83 L436.91,100.89 L436.43,100.67 L435.94,100.65 L435.46,100.33 L434.98,100.46 L434.49,100.16 L434.01,100.02 L433.52,99.61 L433.04,99.13 L432.56,98.52 L432.07,97.71 L431.59,96.39 L431.11,95.83 L430.62,95.14 L430.14,94.59 L429.66,93.93 L429.17,91.96 L428.69,90.79 L428.20,88.93 L427.72,87.91 L427.24,86.12 L426.75,85.21 L426.27,84.41 L425.79,81.35 L425.30,78.99 L424.82,74.65 L424.34,70.43 L423.85,67.94 L423.37,66.19 L422.89,62.53 L422.40,58.17 L421.92,52.76 L421.43,50.46 L420.95,48.56 L420.47,45.53 L419.98,45.97 L419.50,47.67 L419.02,53.05 L418.53,57.11 L418.05,64.83 L417.57,75.19 L417.08,85.70 L416.60,88.74 L416.11,93.02 L415.63,97.52 L415.15,100.98 L414.66,102.89 L414.18,103.50 L413.70,103.93 L413.21,104.20 L412.73,104.20 L412.25,104.20Z" fill="#8c5ab4" opacity="0.35"/>
<path d="M412.25,104.20 L412.73,104.08 L413.21,103.92 L413.70,103.73 L414.18,103.14 L414.66,102.56 L415.15,100.75 L415.63,97.09 L416.11,92.35 L416.60,88.27 L417.08,84.79 L417.57,74.30 L418.05,62.97 L418.53,54.86 L419.02,50.29 L419.50,45.11 L419.98,43.79 L420.47,42.73 L420.95,45.71 L421.43,47.67 L421.92,51.26 L422.40,56.87 L422.89,60.33 L423.37,64.38 L423.85,66.28 L424.34,69.38 L424.82,73.26 L425.30,77.65 L425.79,80.12 L426.27,83.65 L426.75,84.60 L427.24,85.43 L427.72,87.14 L428.20,88.25 L428.69,90.32 L429.17,91.16 L429.66,93.13 L430.14,93.89 L430.62,94.32 L431.11,95.34 L431.59,96.03 L432.07,97.24 L432.56,97.90 L433.04,98.61 L433.52,99.12 L434.01,99.62 L434.49,99.73 L434.98,100.18 L435.46,99.90 L435.94,100.23 L436.43,100.42 L436.91,100.45 L437.39,100.30 L437.88,100.06 L438.36,100.60 L438.84,100.51 L439.33,100.95 L439.81,101.40 L440.29,101.28 L440.78,101.76 L441.26,101.73 L441.75,101.74 L442.23,101.69 L442.71,102.04 L443.20,102.23 L443.68,102.53 L444.16,102.47 L444.65,102.71 L445.13,102.94 L445.61,102.88 L446.10,103.03 L446.58,102.84 L447.07,103.05 L447.55,102.68 L448.03,103.06 L448.52,102.96 L449.00,103.15 L449.48,102.86 L449.97,102.97 L450.45,102.97 L450.93,103.20 L451.42,103.27 L451.90,103.00 L452.38,103.09 L452.87,103.29 L453.35,103.24 L453.84,103.21 L454.32,103.16 L454.80,103.61 L455.29,103.22 L455.77,103.56 L456.25,103.40 L456.74,103.67 L457.22,103.39 L457.70,103.42 L458.19,103.54 L458.67,103.32 L459.16,103.71 L459.64,103.52 L460.12,103.57 L460.61,103.50 L461.09,103.62 L461.57,103.52 L462.06,103.49 L462.54,103.70 L463.02,103.62 L463.51,103.60 L463.99,103.57 L464.47,103.63 L464.96,103.58 L465.44,103.65 L465.93,103.74 L466.41,103.96 L466.89,103.92 L467.38,103.96 L467.86,104.06 L468.34,103.79 L468.83,103.80 L469.31,103.88 L469.79,103.79 L470.28,103.78 L470.76,103.79 L471.25,104.06 L471.73,104.01 L472.21,103.72 L472.70,103.97 L473.18,104.01 L473.66,103.91 L474.15,103.79 L474.63,103.80 L475.11,103.79 L475.60,103.98 L476.08,103.81 L476.56,104.05 L477.05,104.04 L477.53,103.81 L478.02,104.02 L478.50,104.09 L478.98,103.78 L479.47,103.89 L479.95,104.13 L480.43,103.88 L480.92,103.83 L481.40,103.91 L481.88,104.03 L482.37,103.97 L482.85,103.87 L483.34,103.79 L483.82,104.07 L484.30,104.04 L484.79,103.79 L485.27,103.82 L485.75,104.15 L486.24,104.05 L486.72,103.88 L487.20,104.11 L487.69,104.09 L488.17,104.08 L488.65,104.16 L489.14,104.04 L489.62,104.12 L490.11,104.09 L490.59,104.20 L491.07,104.05 L491.56,104.01 L492.04,103.91 L492.52,103.82 L493.01,103.98 L493.49,103.99 L493.97,103.83 L494.46,104.06 L494.94,104.20 L495.43,104.20 L495.91,103.87 L496.39,103.92 L496.88,104.11 L497.36,103.98 L497.84,103.99 L498.33,104.16 L498.81,104.20 L499.29,104.19 L499.78,104.05" fill="none" stroke="#8c5ab4" stroke-width="1.2" stroke-linejoin="round"/>
<rect x="407" y="30.799999999999997" width="105.75" height="76.2" fill="none" stroke="#2a2a2a" stroke-width="1.2"/>
<rect x="297.5" y="111.2" width="105.75" height="12.6" fill="#d2d2d2" stroke="#2a2a2a" stroke-width="1.1"/>
<text x="350.375" y="120.10000000000001" font-size="8.5" fill="#111" stroke="#111" stroke-width="0.15" text-anchor="middle">DOHH2</text>
<rect x="297.5" y="123.8" width="105.75" height="76.2" fill="#fff"/>
<line x1="301.94" y1="123.8" x2="301.94" y2="200.0" stroke="#f2f2f2" stroke-width="0.5"/>
<line x1="310.00" y1="123.8" x2="310.00" y2="200.0" stroke="#e9e9e9" stroke-width="0.7"/>
<line x1="318.06" y1="123.8" x2="318.06" y2="200.0" stroke="#f2f2f2" stroke-width="0.5"/>
<line x1="326.12" y1="123.8" x2="326.12" y2="200.0" stroke="#e9e9e9" stroke-width="0.7"/>
<line x1="334.18" y1="123.8" x2="334.18" y2="200.0" stroke="#f2f2f2" stroke-width="0.5"/>
<line x1="342.24" y1="123.8" x2="342.24" y2="200.0" stroke="#e9e9e9" stroke-width="0.7"/>
<line x1="350.30" y1="123.8" x2="350.30" y2="200.0" stroke="#f2f2f2" stroke-width="0.5"/>
<line x1="358.36" y1="123.8" x2="358.36" y2="200.0" stroke="#e9e9e9" stroke-width="0.7"/>
<line x1="366.42" y1="123.8" x2="366.42" y2="200.0" stroke="#f2f2f2" stroke-width="0.5"/>
<line x1="374.48" y1="123.8" x2="374.48" y2="200.0" stroke="#e9e9e9" stroke-width="0.7"/>
<line x1="382.54" y1="123.8" x2="382.54" y2="200.0" stroke="#f2f2f2" stroke-width="0.5"/>
<line x1="390.60" y1="123.8" x2="390.60" y2="200.0" stroke="#e9e9e9" stroke-width="0.7"/>
<line x1="398.66" y1="123.8" x2="398.66" y2="200.0" stroke="#f2f2f2" stroke-width="0.5"/>
<line x1="297.5" y1="197.20" x2="403.25" y2="197.20" stroke="#e9e9e9" stroke-width="0.7"/>
<line x1="297.5" y1="179.60" x2="403.25" y2="179.60" stroke="#f2f2f2" stroke-width="0.5"/>
<line x1="297.5" y1="162.00" x2="403.25" y2="162.00" stroke="#e9e9e9" stroke-width="0.7"/>
<line x1="297.5" y1="144.40" x2="403.25" y2="144.40" stroke="#f2f2f2" stroke-width="0.5"/>
<line x1="297.5" y1="126.80" x2="403.25" y2="126.80" stroke="#e9e9e9" stroke-width="0.7"/>
<path d="M302.75,197.09 L303.23,196.88 L303.71,196.60 L304.20,196.30 L304.68,195.54 L305.16,194.55 L305.65,193.85 L306.13,188.83 L306.61,182.85 L307.10,175.54 L307.58,163.83 L308.07,156.79 L308.55,146.18 L309.03,137.80 L309.52,133.89 L310.00,129.99 L310.48,133.39 L310.97,137.25 L311.45,141.55 L311.93,145.71 L312.42,150.64 L312.90,152.90 L313.39,155.23 L313.87,159.26 L314.35,163.10 L314.84,166.57 L315.32,168.54 L315.80,169.72 L316.29,172.25 L316.77,174.68 L317.25,176.89 L317.74,179.01 L318.22,180.81 L318.70,181.94 L319.19,182.87 L319.67,184.17 L320.16,185.69 L320.64,186.99 L321.12,188.38 L321.61,189.47 L322.09,190.30 L322.57,190.62 L323.06,191.25 L323.54,191.49 L324.02,192.12 L324.51,192.70 L324.99,193.16 L325.48,193.54 L325.96,193.65 L326.44,193.73 L326.93,193.72 L327.41,193.77 L327.89,193.85 L328.38,193.89 L328.86,194.20 L329.34,194.22 L329.83,194.40 L330.31,194.35 L330.79,194.64 L331.28,194.72 L331.76,194.79 L332.25,195.00 L332.73,194.83 L333.21,194.91 L333.70,195.05 L334.18,195.24 L334.66,195.39 L335.15,195.32 L335.63,195.24 L336.11,195.25 L336.60,195.48 L337.08,195.47 L337.57,195.46 L338.05,195.60 L338.53,195.56 L339.02,195.70 L339.50,195.72 L339.98,195.65 L340.47,195.74 L340.95,195.93 L341.43,195.94 L341.92,196.12 L342.40,196.15 L342.88,196.07 L343.37,196.20 L343.85,196.16 L344.34,196.32 L344.82,196.26 L345.30,196.45 L345.79,196.33 L346.27,196.35 L346.75,196.48 L347.24,196.48 L347.72,196.56 L348.20,196.61 L348.69,196.41 L349.17,196.43 L349.66,196.59 L350.14,196.48 L350.62,196.50 L351.11,196.63 L351.59,196.61 L352.07,196.71 L352.56,196.71 L353.04,196.64 L353.52,196.51 L354.01,196.63 L354.49,196.61 L354.97,196.56 L355.46,196.69 L355.94,196.76 L356.43,196.64 L356.91,196.73 L357.39,196.77 L357.88,196.64 L358.36,196.77 L358.84,196.71 L359.33,196.68 L359.81,196.81 L360.29,196.78 L360.78,196.87 L361.26,196.80 L361.75,196.72 L362.23,196.79 L362.71,196.84 L363.20,196.92 L363.68,196.92 L364.16,196.84 L364.65,196.85 L365.13,196.77 L365.61,196.85 L366.10,196.87 L366.58,196.92 L367.06,196.82 L367.55,196.85 L368.03,196.96 L368.52,196.77 L369.00,196.84 L369.48,196.88 L369.97,196.84 L370.45,196.85 L370.93,196.92 L371.42,196.92 L371.90,196.90 L372.38,196.90 L372.87,196.77 L373.35,196.82 L373.84,196.86 L374.32,196.82 L374.80,196.79 L375.29,196.92 L375.77,196.88 L376.25,196.90 L376.74,196.89 L377.22,196.89 L377.70,196.96 L378.19,196.86 L378.67,196.91 L379.15,196.93 L379.64,196.85 L380.12,196.94 L380.61,196.96 L381.09,196.85 L381.57,196.89 L382.06,196.87 L382.54,196.96 L383.02,196.81 L383.51,196.95 L383.99,196.80 L384.47,196.95 L384.96,196.87 L385.44,196.89 L385.93,196.78 L386.41,196.90 L386.89,196.81 L387.38,196.88 L387.86,196.84 L388.34,196.81 L388.83,196.88 L389.31,196.93 L389.79,196.86 L390.28,196.76 L390.28,196.97 L389.79,197.06 L389.31,197.08 L388.83,197.05 L388.34,197.03 L387.86,197.02 L387.38,197.12 L386.89,197.07 L386.41,197.11 L385.93,197.06 L385.44,197.09 L384.96,197.05 L384.47,197.12 L383.99,197.03 L383.51,197.15 L383.02,197.01 L382.54,197.09 L382.06,197.08 L381.57,197.12 L381.09,197.02 L380.61,197.14 L380.12,197.15 L379.64,197.06 L379.15,197.18 L378.67,197.06 L378.19,197.07 L377.70,197.16 L377.22,197.09 L376.74,197.09 L376.25,197.08 L375.77,197.12 L375.29,197.07 L374.80,197.05 L374.32,197.04 L373.84,197.05 L373.35,197.02 L372.87,196.98 L372.38,197.09 L371.90,197.07 L371.42,197.17 L370.93,197.11 L370.45,197.03 L369.97,197.01 L369.48,197.01 L369.00,197.01 L368.52,197.00 L368.03,197.14 L367.55,196.99 L367.06,197.08 L366.58,197.07 L366.10,197.13 L365.61,197.10 L365.13,197.01 L364.65,197.06 L364.16,197.04 L363.68,197.09 L363.20,197.11 L362.71,196.99 L362.23,197.01 L361.75,196.96 L361.26,196.96 L360.78,197.02 L360.29,196.99 L359.81,197.07 L359.33,196.90 L358.84,196.91 L358.36,197.02 L357.88,196.86 L357.39,196.93 L356.91,196.91 L356.43,196.86 L355.94,196.91 L355.46,196.92 L354.97,196.78 L354.49,196.81 L354.01,196.80 L353.52,196.77 L353.04,196.90 L352.56,196.89 L352.07,196.90 L351.59,196.81 L351.11,196.81 L350.62,196.74 L350.14,196.75 L349.66,196.78 L349.17,196.66 L348.69,196.66 L348.20,196.81 L347.72,196.79 L347.24,196.71 L346.75,196.71 L346.27,196.57 L345.79,196.57 L345.30,196.62 L344.82,196.49 L344.34,196.49 L343.85,196.37 L343.37,196.38 L342.88,196.24 L342.40,196.36 L341.92,196.26 L341.43,196.18 L340.95,196.13 L340.47,195.97 L339.98,195.87 L339.50,196.02 L339.02,195.96 L338.53,195.81 L338.05,195.84 L337.57,195.76 L337.08,195.73 L336.60,195.71 L336.11,195.54 L335.63,195.54 L335.15,195.56 L334.66,195.58 L334.18,195.44 L333.70,195.35 L333.21,195.19 L332.73,195.13 L332.25,195.22 L331.76,195.07 L331.28,194.94 L330.79,194.90 L330.31,194.63 L329.83,194.66 L329.34,194.55 L328.86,194.41 L328.38,194.21 L327.89,194.05 L327.41,194.08 L326.93,193.91 L326.44,193.95 L325.96,193.91 L325.48,193.86 L324.99,193.46 L324.51,192.99 L324.02,192.38 L323.54,191.77 L323.06,191.53 L322.57,191.03 L322.09,190.66 L321.61,189.80 L321.12,188.72 L320.64,187.35 L320.16,186.19 L319.67,184.68 L319.19,183.50 L318.70,182.54 L318.22,181.33 L317.74,179.66 L317.25,177.31 L316.77,175.26 L316.29,172.87 L315.80,170.69 L315.32,169.44 L314.84,167.36 L314.35,164.35 L313.87,160.12 L313.39,156.49 L312.90,153.76 L312.42,151.86 L311.93,147.40 L311.45,142.95 L310.97,139.38 L310.48,135.51 L310.00,131.64 L309.52,135.36 L309.03,139.70 L308.55,147.05 L308.07,158.05 L307.58,164.96 L307.10,176.40 L306.61,183.32 L306.13,189.28 L305.65,194.17 L305.16,194.86 L304.68,195.78 L304.20,196.57 L303.71,196.83 L303.23,197.06 L302.75,197.20Z" fill="#d8645c" opacity="0.35"/>
<path d="M302.75,197.20 L303.23,197.01 L303.71,196.75 L304.20,196.47 L304.68,195.66 L305.16,194.70 L305.65,194.03 L306.13,189.09 L306.61,183.00 L307.10,175.99 L307.58,164.56 L308.07,157.36 L308.55,146.62 L309.03,139.02 L309.52,134.60 L310.00,130.79 L310.48,134.64 L310.97,138.38 L311.45,142.07 L311.93,146.74 L312.42,151.13 L312.90,153.41 L313.39,156.15 L313.87,159.78 L314.35,163.77 L314.84,167.11 L315.32,168.92 L315.80,170.17 L316.29,172.49 L316.77,174.95 L317.25,177.12 L317.74,179.27 L318.22,181.08 L318.70,182.27 L319.19,183.18 L319.67,184.42 L320.16,185.89 L320.64,187.24 L321.12,188.61 L321.61,189.69 L322.09,190.48 L322.57,190.85 L323.06,191.35 L323.54,191.63 L324.02,192.25 L324.51,192.84 L324.99,193.30 L325.48,193.70 L325.96,193.76 L326.44,193.83 L326.93,193.80 L327.41,193.97 L327.89,193.94 L328.38,194.09 L328.86,194.28 L329.34,194.40 L329.83,194.51 L330.31,194.53 L330.79,194.75 L331.28,194.83 L331.76,194.91 L332.25,195.07 L332.73,195.02 L333.21,195.10 L333.70,195.22 L334.18,195.34 L334.66,195.46 L335.15,195.49 L335.63,195.39 L336.11,195.43 L336.60,195.64 L337.08,195.62 L337.57,195.64 L338.05,195.70 L338.53,195.72 L339.02,195.82 L339.50,195.88 L339.98,195.81 L340.47,195.90 L340.95,196.03 L341.43,196.05 L341.92,196.19 L342.40,196.22 L342.88,196.14 L343.37,196.29 L343.85,196.28 L344.34,196.42 L344.82,196.40 L345.30,196.53 L345.79,196.48 L346.27,196.48 L346.75,196.59 L347.24,196.62 L347.72,196.68 L348.20,196.72 L348.69,196.58 L349.17,196.58 L349.66,196.66 L350.14,196.64 L350.62,196.64 L351.11,196.75 L351.59,196.76 L352.07,196.77 L352.56,196.77 L353.04,196.79 L353.52,196.67 L354.01,196.69 L354.49,196.75 L354.97,196.72 L355.46,196.80 L355.94,196.83 L356.43,196.77 L356.91,196.83 L357.39,196.83 L357.88,196.74 L358.36,196.90 L358.84,196.82 L359.33,196.84 L359.81,196.95 L360.29,196.88 L360.78,196.95 L361.26,196.89 L361.75,196.88 L362.23,196.89 L362.71,196.92 L363.20,197.03 L363.68,197.01 L364.16,196.91 L364.65,196.97 L365.13,196.91 L365.61,196.98 L366.10,197.00 L366.58,196.99 L367.06,196.95 L367.55,196.93 L368.03,197.03 L368.52,196.92 L369.00,196.92 L369.48,196.95 L369.97,196.93 L370.45,196.97 L370.93,197.02 L371.42,197.04 L371.90,197.01 L372.38,197.03 L372.87,196.92 L373.35,196.91 L373.84,196.94 L374.32,196.96 L374.80,196.94 L375.29,196.98 L375.77,197.02 L376.25,196.98 L376.74,196.97 L377.22,196.96 L377.70,197.05 L378.19,196.97 L378.67,197.00 L379.15,197.07 L379.64,196.98 L380.12,197.03 L380.61,197.07 L381.09,196.94 L381.57,197.01 L382.06,197.02 L382.54,197.03 L383.02,196.94 L383.51,197.04 L383.99,196.93 L384.47,197.05 L384.96,196.98 L385.44,197.03 L385.93,196.93 L386.41,197.01 L386.89,196.96 L387.38,197.02 L387.86,196.97 L388.34,196.94 L388.83,196.98 L389.31,196.98 L389.79,196.96 L390.28,196.91" fill="none" stroke="#d8645c" stroke-width="1.2" stroke-linejoin="round"/>
<rect x="297.5" y="123.8" width="105.75" height="76.2" fill="none" stroke="#2a2a2a" stroke-width="1.2"/>
<line x1="294.0" y1="197.20" x2="297.5" y2="197.20" stroke="#2a2a2a" stroke-width="1"/>
<text class="tk" x="291.5" y="200.30" text-anchor="end">0</text>
<line x1="294.0" y1="162.00" x2="297.5" y2="162.00" stroke="#2a2a2a" stroke-width="1"/>
<text class="tk" x="291.5" y="165.10" text-anchor="end">5</text>
<line x1="294.0" y1="126.80" x2="297.5" y2="126.80" stroke="#2a2a2a" stroke-width="1"/>
<text class="tk" x="291.5" y="129.90" text-anchor="end">10</text>
<line x1="310.00" y1="200.0" x2="310.00" y2="203.6" stroke="#1a1a1a" stroke-width="1.1"/>
<text class="tk" x="0" y="0" style="font-size:8.3px" text-anchor="end" transform="translate(314.60,210.00) rotate(-45)">100</text>
<line x1="326.12" y1="200.0" x2="326.12" y2="203.6" stroke="#1a1a1a" stroke-width="1.1"/>
<text class="tk" x="0" y="0" style="font-size:8.3px" text-anchor="end" transform="translate(330.72,210.00) rotate(-45)">200</text>
<line x1="342.24" y1="200.0" x2="342.24" y2="203.6" stroke="#1a1a1a" stroke-width="1.1"/>
<text class="tk" x="0" y="0" style="font-size:8.3px" text-anchor="end" transform="translate(346.84,210.00) rotate(-45)">300</text>
<line x1="358.36" y1="200.0" x2="358.36" y2="203.6" stroke="#1a1a1a" stroke-width="1.1"/>
<text class="tk" x="0" y="0" style="font-size:8.3px" text-anchor="end" transform="translate(362.96,210.00) rotate(-45)">400</text>
<line x1="374.48" y1="200.0" x2="374.48" y2="203.6" stroke="#1a1a1a" stroke-width="1.1"/>
<text class="tk" x="0" y="0" style="font-size:8.3px" text-anchor="end" transform="translate(379.08,210.00) rotate(-45)">500</text>
<line x1="390.60" y1="200.0" x2="390.60" y2="203.6" stroke="#1a1a1a" stroke-width="1.1"/>
<text class="tk" x="0" y="0" style="font-size:8.3px" text-anchor="end" transform="translate(395.20,210.00) rotate(-45)">600</text>
<rect x="407" y="111.2" width="105.75" height="12.6" fill="#d2d2d2" stroke="#2a2a2a" stroke-width="1.1"/>
<text x="459.875" y="120.10000000000001" font-size="8.5" fill="#111" stroke="#111" stroke-width="0.15" text-anchor="middle">FL B cells</text>
<rect x="407" y="123.8" width="105.75" height="76.2" fill="#fff"/>
<line x1="411.44" y1="123.8" x2="411.44" y2="200.0" stroke="#f2f2f2" stroke-width="0.5"/>
<line x1="419.50" y1="123.8" x2="419.50" y2="200.0" stroke="#e9e9e9" stroke-width="0.7"/>
<line x1="427.56" y1="123.8" x2="427.56" y2="200.0" stroke="#f2f2f2" stroke-width="0.5"/>
<line x1="435.62" y1="123.8" x2="435.62" y2="200.0" stroke="#e9e9e9" stroke-width="0.7"/>
<line x1="443.68" y1="123.8" x2="443.68" y2="200.0" stroke="#f2f2f2" stroke-width="0.5"/>
<line x1="451.74" y1="123.8" x2="451.74" y2="200.0" stroke="#e9e9e9" stroke-width="0.7"/>
<line x1="459.80" y1="123.8" x2="459.80" y2="200.0" stroke="#f2f2f2" stroke-width="0.5"/>
<line x1="467.86" y1="123.8" x2="467.86" y2="200.0" stroke="#e9e9e9" stroke-width="0.7"/>
<line x1="475.92" y1="123.8" x2="475.92" y2="200.0" stroke="#f2f2f2" stroke-width="0.5"/>
<line x1="483.98" y1="123.8" x2="483.98" y2="200.0" stroke="#e9e9e9" stroke-width="0.7"/>
<line x1="492.04" y1="123.8" x2="492.04" y2="200.0" stroke="#f2f2f2" stroke-width="0.5"/>
<line x1="500.10" y1="123.8" x2="500.10" y2="200.0" stroke="#e9e9e9" stroke-width="0.7"/>
<line x1="508.16" y1="123.8" x2="508.16" y2="200.0" stroke="#f2f2f2" stroke-width="0.5"/>
<line x1="407" y1="197.20" x2="512.75" y2="197.20" stroke="#e9e9e9" stroke-width="0.7"/>
<line x1="407" y1="179.60" x2="512.75" y2="179.60" stroke="#f2f2f2" stroke-width="0.5"/>
<line x1="407" y1="162.00" x2="512.75" y2="162.00" stroke="#e9e9e9" stroke-width="0.7"/>
<line x1="407" y1="144.40" x2="512.75" y2="144.40" stroke="#f2f2f2" stroke-width="0.5"/>
<line x1="407" y1="126.80" x2="512.75" y2="126.80" stroke="#e9e9e9" stroke-width="0.7"/>
<path d="M412.73,196.50 L413.21,196.28 L413.70,195.03 L414.18,194.78 L414.66,193.43 L415.15,188.50 L415.63,187.71 L416.11,180.19 L416.60,172.78 L417.08,166.74 L417.57,163.79 L418.05,148.32 L418.53,140.58 L419.02,138.32 L419.50,138.55 L419.98,140.68 L420.47,147.22 L420.95,144.26 L421.43,143.27 L421.92,151.30 L422.40,151.70 L422.89,151.10 L423.37,161.56 L423.85,159.30 L424.34,165.58 L424.82,163.74 L425.30,167.66 L425.79,174.06 L426.27,175.25 L426.75,176.41 L427.24,180.60 L427.72,179.06 L428.20,185.81 L428.69,185.37 L429.17,183.29 L429.66,188.60 L430.14,186.19 L430.62,187.36 L431.11,188.90 L431.59,187.45 L432.07,189.95 L432.56,190.13 L433.04,188.56 L433.52,191.11 L434.01,189.63 L434.49,189.83 L434.98,186.78 L435.46,185.46 L435.94,185.91 L436.43,181.33 L436.91,184.77 L437.39,183.40 L437.88,184.01 L438.36,182.37 L438.84,182.45 L439.33,186.95 L439.81,183.84 L440.29,187.52 L440.78,184.82 L441.26,188.48 L441.75,187.38 L442.23,186.80 L442.71,188.29 L443.20,189.25 L443.68,189.81 L444.16,191.69 L444.65,189.12 L445.13,190.93 L445.61,192.19 L446.10,192.65 L446.58,190.91 L447.07,191.07 L447.55,193.07 L448.03,191.96 L448.52,191.36 L449.00,192.61 L449.48,190.91 L449.97,190.87 L450.45,192.37 L450.93,190.79 L451.42,193.04 L451.90,191.95 L452.38,193.01 L452.87,191.29 L453.35,192.29 L453.84,191.89 L454.32,193.27 L454.80,193.00 L455.29,192.67 L455.77,195.10 L456.25,192.93 L456.74,193.75 L457.22,193.76 L457.70,192.74 L458.19,194.49 L458.67,194.55 L459.16,192.49 L459.64,194.82 L460.12,193.16 L460.61,193.23 L461.09,193.30 L461.57,193.54 L462.06,194.46 L462.54,194.06 L463.02,194.80 L463.51,193.52 L463.99,193.98 L464.47,196.29 L464.96,194.02 L465.44,193.32 L465.93,195.27 L466.41,193.51 L466.89,196.21 L467.38,193.13 L467.86,196.20 L468.34,194.05 L468.83,194.32 L469.31,195.54 L469.79,196.51 L470.28,196.47 L470.76,195.04 L471.25,194.11 L471.73,193.63 L472.21,194.16 L472.70,195.45 L473.18,195.63 L473.66,194.30 L474.15,194.09 L474.63,195.49 L475.11,194.65 L475.60,196.36 L476.08,194.56 L476.56,194.93 L477.05,193.62 L477.53,193.44 L478.02,193.79 L478.50,195.79 L478.98,195.56 L479.47,195.52 L479.95,195.45 L480.43,195.27 L480.92,195.26 L481.40,193.67 L481.88,194.55 L482.37,194.07 L482.85,194.65 L483.34,195.28 L483.82,195.59 L484.30,195.17 L484.79,194.32 L485.27,194.13 L485.75,195.65 L486.24,195.75 L486.72,193.84 L487.20,195.94 L487.69,196.05 L488.17,194.08 L488.65,194.35 L489.14,195.82 L489.62,193.62 L490.11,194.65 L490.59,194.51 L491.07,195.90 L491.56,196.16 L492.04,195.62 L492.52,194.31 L493.01,195.40 L493.49,194.16 L493.97,195.74 L494.46,196.26 L494.94,195.35 L495.43,194.85 L495.91,195.51 L496.39,195.23 L496.88,196.31 L497.36,195.94 L497.84,195.11 L498.33,196.30 L498.81,193.75 L499.29,195.43 L499.78,194.34 L499.78,196.75 L499.29,197.20 L498.81,196.74 L498.33,197.20 L497.84,197.20 L497.36,197.20 L496.88,197.20 L496.39,197.20 L495.91,197.20 L495.43,197.20 L494.94,197.20 L494.46,197.20 L493.97,197.20 L493.49,196.14 L493.01,197.20 L492.52,195.86 L492.04,197.20 L491.56,197.20 L491.07,197.20 L490.59,196.72 L490.11,196.97 L489.62,196.30 L489.14,197.20 L488.65,197.20 L488.17,196.68 L487.69,197.20 L487.20,197.20 L486.72,196.76 L486.24,197.20 L485.75,197.20 L485.27,196.72 L484.79,196.22 L484.30,197.20 L483.82,197.20 L483.34,197.03 L482.85,197.01 L482.37,195.85 L481.88,197.04 L481.40,196.62 L480.92,197.20 L480.43,197.20 L479.95,197.20 L479.47,197.20 L478.98,197.20 L478.50,197.20 L478.02,196.63 L477.53,196.23 L477.05,196.78 L476.56,197.20 L476.08,196.62 L475.60,197.20 L475.11,196.81 L474.63,197.20 L474.15,196.76 L473.66,196.27 L473.18,197.15 L472.70,197.20 L472.21,196.88 L471.73,196.35 L471.25,197.11 L470.76,197.20 L470.28,197.20 L469.79,197.20 L469.31,197.20 L468.83,197.20 L468.34,196.28 L467.86,197.20 L467.38,196.31 L466.89,197.20 L466.41,195.89 L465.93,197.20 L465.44,195.60 L464.96,196.49 L464.47,197.20 L463.99,196.08 L463.51,195.78 L463.02,197.20 L462.54,196.06 L462.06,197.20 L461.57,196.23 L461.09,196.33 L460.61,195.43 L460.12,196.64 L459.64,197.20 L459.16,196.02 L458.67,197.20 L458.19,196.40 L457.70,195.13 L457.22,195.77 L456.74,196.43 L456.25,195.61 L455.77,196.86 L455.29,195.39 L454.80,195.30 L454.32,196.90 L453.84,195.08 L453.35,195.08 L452.87,195.03 L452.38,196.28 L451.90,194.37 L451.42,196.04 L450.93,193.53 L450.45,195.18 L449.97,193.05 L449.48,194.26 L449.00,195.90 L448.52,194.23 L448.03,195.34 L447.55,196.77 L447.07,194.47 L446.58,193.42 L446.10,195.78 L445.61,196.44 L445.13,194.72 L444.65,192.22 L444.16,195.31 L443.68,192.78 L443.20,194.04 L442.71,191.63 L442.23,191.44 L441.75,190.96 L441.26,192.75 L440.78,189.56 L440.29,192.24 L439.81,187.86 L439.33,191.68 L438.84,188.33 L438.36,187.29 L437.88,188.65 L437.39,188.89 L436.91,190.45 L436.43,187.97 L435.94,189.03 L435.46,190.73 L434.98,191.00 L434.49,194.51 L434.01,193.51 L433.52,193.79 L433.04,191.47 L432.56,193.82 L432.07,192.88 L431.59,192.37 L431.11,193.46 L430.62,191.81 L430.14,188.97 L429.66,191.44 L429.17,187.16 L428.69,188.89 L428.20,190.58 L427.72,183.06 L427.24,185.10 L426.75,181.26 L426.27,183.69 L425.79,183.50 L425.30,175.89 L424.82,175.70 L424.34,173.30 L423.85,167.61 L423.37,172.18 L422.89,163.39 L422.40,164.51 L421.92,163.78 L421.43,153.89 L420.95,156.92 L420.47,161.02 L419.98,155.12 L419.50,150.95 L419.02,152.07 L418.53,156.48 L418.05,159.67 L417.57,173.12 L417.08,174.15 L416.60,178.64 L416.11,186.99 L415.63,190.68 L415.15,192.85 L414.66,195.38 L414.18,197.04 L413.70,197.20 L413.21,197.20 L412.73,197.20Z" fill="#8aad22" opacity="0.35"/>
<path d="M412.73,197.20 L413.21,196.96 L413.70,196.64 L414.18,196.14 L414.66,194.37 L415.15,190.92 L415.63,189.17 L416.11,183.78 L416.60,175.05 L417.08,171.31 L417.57,166.94 L418.05,155.08 L418.53,148.37 L419.02,146.04 L419.50,146.03 L419.98,150.96 L420.47,155.75 L420.95,151.45 L421.43,148.24 L421.92,159.04 L422.40,159.81 L422.89,159.84 L423.37,165.95 L423.85,163.47 L424.34,170.55 L424.82,170.25 L425.30,173.75 L425.79,179.58 L426.27,180.37 L426.75,179.10 L427.24,182.64 L427.72,181.54 L428.20,187.67 L428.69,187.42 L429.17,185.57 L429.66,189.94 L430.14,187.73 L430.62,189.07 L431.11,191.17 L431.59,190.60 L432.07,191.81 L432.56,191.61 L433.04,190.47 L433.52,192.54 L434.01,192.33 L434.49,192.71 L434.98,188.65 L435.46,188.40 L435.94,187.40 L436.43,184.98 L436.91,187.73 L437.39,186.71 L437.88,186.95 L438.36,185.94 L438.84,185.99 L439.33,190.28 L439.81,186.58 L440.29,190.16 L440.78,188.07 L441.26,191.62 L441.75,188.69 L442.23,189.62 L442.71,189.69 L443.20,191.99 L443.68,191.78 L444.16,193.73 L444.65,191.13 L445.13,193.18 L445.61,194.54 L446.10,194.46 L446.58,192.29 L447.07,193.52 L447.55,194.92 L448.03,193.51 L448.52,192.32 L449.00,194.01 L449.48,193.18 L449.97,192.02 L450.45,193.74 L450.93,192.73 L451.42,194.70 L451.90,193.50 L452.38,195.11 L452.87,193.58 L453.35,193.99 L453.84,193.35 L454.32,195.32 L454.80,194.41 L455.29,193.96 L455.77,195.97 L456.25,193.94 L456.74,195.33 L457.22,194.63 L457.70,193.73 L458.19,195.65 L458.67,196.64 L459.16,194.36 L459.64,196.35 L460.12,195.18 L460.61,194.09 L461.09,195.03 L461.57,194.65 L462.06,195.96 L462.54,195.16 L463.02,196.32 L463.51,194.73 L463.99,195.03 L464.47,197.20 L464.96,195.49 L465.44,194.80 L465.93,197.20 L466.41,194.95 L466.89,197.20 L467.38,194.95 L467.86,197.16 L468.34,194.91 L468.83,195.68 L469.31,196.87 L469.79,197.20 L470.28,197.20 L470.76,196.83 L471.25,195.60 L471.73,195.20 L472.21,195.74 L472.70,196.29 L473.18,196.35 L473.66,195.27 L474.15,195.83 L474.63,196.67 L475.11,195.32 L475.60,197.20 L476.08,195.49 L476.56,196.47 L477.05,195.52 L477.53,195.26 L478.02,195.48 L478.50,197.20 L478.98,197.01 L479.47,196.20 L479.95,197.16 L480.43,197.03 L480.92,196.94 L481.40,195.41 L481.88,195.95 L482.37,195.14 L482.85,195.90 L483.34,196.22 L483.82,197.20 L484.30,195.95 L484.79,195.59 L485.27,195.54 L485.75,197.20 L486.24,196.56 L486.72,195.41 L487.20,197.06 L487.69,197.20 L488.17,195.79 L488.65,195.97 L489.14,196.67 L489.62,195.42 L490.11,195.79 L490.59,195.55 L491.07,197.17 L491.56,197.15 L492.04,197.20 L492.52,195.15 L493.01,197.20 L493.49,195.41 L493.97,196.94 L494.46,197.20 L494.94,197.20 L495.43,196.31 L495.91,197.20 L496.39,195.89 L496.88,197.20 L497.36,196.98 L497.84,196.20 L498.33,197.20 L498.81,195.24 L499.29,197.20 L499.78,196.03" fill="none" stroke="#8aad22" stroke-width="1.2" stroke-linejoin="round"/>
<rect x="407" y="123.8" width="105.75" height="76.2" fill="none" stroke="#2a2a2a" stroke-width="1.2"/>
<line x1="419.50" y1="200.0" x2="419.50" y2="203.6" stroke="#1a1a1a" stroke-width="1.1"/>
<text class="tk" x="0" y="0" style="font-size:8.3px" text-anchor="end" transform="translate(424.10,210.00) rotate(-45)">100</text>
<line x1="435.62" y1="200.0" x2="435.62" y2="203.6" stroke="#1a1a1a" stroke-width="1.1"/>
<text class="tk" x="0" y="0" style="font-size:8.3px" text-anchor="end" transform="translate(440.22,210.00) rotate(-45)">200</text>
<line x1="451.74" y1="200.0" x2="451.74" y2="203.6" stroke="#1a1a1a" stroke-width="1.1"/>
<text class="tk" x="0" y="0" style="font-size:8.3px" text-anchor="end" transform="translate(456.34,210.00) rotate(-45)">300</text>
<line x1="467.86" y1="200.0" x2="467.86" y2="203.6" stroke="#1a1a1a" stroke-width="1.1"/>
<text class="tk" x="0" y="0" style="font-size:8.3px" text-anchor="end" transform="translate(472.46,210.00) rotate(-45)">400</text>
<line x1="483.98" y1="200.0" x2="483.98" y2="203.6" stroke="#1a1a1a" stroke-width="1.1"/>
<text class="tk" x="0" y="0" style="font-size:8.3px" text-anchor="end" transform="translate(488.58,210.00) rotate(-45)">500</text>
<line x1="500.10" y1="200.0" x2="500.10" y2="203.6" stroke="#1a1a1a" stroke-width="1.1"/>
<text class="tk" x="0" y="0" style="font-size:8.3px" text-anchor="end" transform="translate(504.70,210.00) rotate(-45)">600</text>
<text x="0" y="0" font-size="10" fill="#111" stroke="#111" stroke-width="0.25" text-anchor="middle" textLength="54" lengthAdjust="spacingAndGlyphs" transform="translate(274.5,109) rotate(-90)">Prevalence (%)</text>
<text x="405.4" y="233.6" font-size="10" fill="#111" stroke="#111" stroke-width="0.25" text-anchor="middle" textLength="34.5" lengthAdjust="spacingAndGlyphs">Size (nm)</text>
</g>
<g id="panelC">
<text class="lbl" x="0" y="0" transform="translate(7.7,264.3) scale(0.99,1.03)">C</text>
<path class="ax" d="M55.0,279 V380.6 H140.5" stroke-width="1.4"/>
<line x1="51.4" y1="371.52" x2="55.0" y2="371.52" stroke="#222" stroke-width="1"/>
<text class="tk" x="44.4" y="375.72" text-anchor="end" style="font-size:8.6px">10</text>
<text x="44.4" y="372.32" font-size="6.4" fill="#1a1a1a">2</text>
<line x1="51.4" y1="351.64" x2="55.0" y2="351.64" stroke="#222" stroke-width="1"/>
<text class="tk" x="44.4" y="355.84" text-anchor="end" style="font-size:8.6px">10</text>
<text x="44.4" y="352.44" font-size="6.4" fill="#1a1a1a">4</text>
<line x1="51.4" y1="331.76" x2="55.0" y2="331.76" stroke="#222" stroke-width="1"/>
<text class="tk" x="44.4" y="335.96" text-anchor="end" style="font-size:8.6px">10</text>
<text x="44.4" y="332.56" font-size="6.4" fill="#1a1a1a">6</text>
<line x1="51.4" y1="311.88" x2="55.0" y2="311.88" stroke="#222" stroke-width="1"/>
<text class="tk" x="44.4" y="316.08" text-anchor="end" style="font-size:8.6px">10</text>
<text x="44.4" y="312.68" font-size="6.4" fill="#1a1a1a">8</text>
<line x1="51.4" y1="292.00" x2="55.0" y2="292.00" stroke="#222" stroke-width="1"/>
<text class="tk" x="41.0" y="296.20" text-anchor="end" style="font-size:8.6px">10</text>
<text x="41.1" y="292.80" font-size="6.4" fill="#1a1a1a">10</text>
<line x1="53.0" y1="378.47" x2="55.0" y2="378.47" stroke="#222" stroke-width="0.7"/>
<line x1="53.0" y1="376.72" x2="55.0" y2="376.72" stroke="#222" stroke-width="0.7"/>
<line x1="53.0" y1="375.48" x2="55.0" y2="375.48" stroke="#222" stroke-width="0.7"/>
<line x1="53.0" y1="374.51" x2="55.0" y2="374.51" stroke="#222" stroke-width="0.7"/>
<line x1="53.0" y1="373.73" x2="55.0" y2="373.73" stroke="#222" stroke-width="0.7"/>
<line x1="53.0" y1="373.06" x2="55.0" y2="373.06" stroke="#222" stroke-width="0.7"/>
<line x1="53.0" y1="372.48" x2="55.0" y2="372.48" stroke="#222" stroke-width="0.7"/>
<line x1="53.0" y1="371.97" x2="55.0" y2="371.97" stroke="#222" stroke-width="0.7"/>
<line x1="53.0" y1="368.53" x2="55.0" y2="368.53" stroke="#222" stroke-width="0.7"/>
<line x1="53.0" y1="366.78" x2="55.0" y2="366.78" stroke="#222" stroke-width="0.7"/>
<line x1="53.0" y1="365.54" x2="55.0" y2="365.54" stroke="#222" stroke-width="0.7"/>
<line x1="53.0" y1="364.57" x2="55.0" y2="364.57" stroke="#222" stroke-width="0.7"/>
<line x1="53.0" y1="363.79" x2="55.0" y2="363.79" stroke="#222" stroke-width="0.7"/>
<line x1="53.0" y1="363.12" x2="55.0" y2="363.12" stroke="#222" stroke-width="0.7"/>
<line x1="53.0" y1="362.54" x2="55.0" y2="362.54" stroke="#222" stroke-width="0.7"/>
<line x1="53.0" y1="362.03" x2="55.0" y2="362.03" stroke="#222" stroke-width="0.7"/>
<line x1="53.0" y1="358.59" x2="55.0" y2="358.59" stroke="#222" stroke-width="0.7"/>
<line x1="53.0" y1="356.84" x2="55.0" y2="356.84" stroke="#222" stroke-width="0.7"/>
<line x1="53.0" y1="355.60" x2="55.0" y2="355.60" stroke="#222" stroke-width="0.7"/>
<line x1="53.0" y1="354.63" x2="55.0" y2="354.63" stroke="#222" stroke-width="0.7"/>
<line x1="53.0" y1="353.85" x2="55.0" y2="353.85" stroke="#222" stroke-width="0.7"/>
<line x1="53.0" y1="353.18" x2="55.0" y2="353.18" stroke="#222" stroke-width="0.7"/>
<line x1="53.0" y1="352.60" x2="55.0" y2="352.60" stroke="#222" stroke-width="0.7"/>
<line x1="53.0" y1="352.09" x2="55.0" y2="352.09" stroke="#222" stroke-width="0.7"/>
<line x1="52.8" y1="361.58" x2="55.0" y2="361.58" stroke="#222" stroke-width="0.8"/>
<line x1="53.0" y1="348.65" x2="55.0" y2="348.65" stroke="#222" stroke-width="0.7"/>
<line x1="53.0" y1="346.90" x2="55.0" y2="346.90" stroke="#222" stroke-width="0.7"/>
<line x1="53.0" y1="345.66" x2="55.0" y2="345.66" stroke="#222" stroke-width="0.7"/>
<line x1="53.0" y1="344.69" x2="55.0" y2="344.69" stroke="#222" stroke-width="0.7"/>
<line x1="53.0" y1="343.91" x2="55.0" y2="343.91" stroke="#222" stroke-width="0.7"/>
<line x1="53.0" y1="343.24" x2="55.0" y2="343.24" stroke="#222" stroke-width="0.7"/>
<line x1="53.0" y1="342.66" x2="55.0" y2="342.66" stroke="#222" stroke-width="0.7"/>
<line x1="53.0" y1="342.15" x2="55.0" y2="342.15" stroke="#222" stroke-width="0.7"/>
<line x1="53.0" y1="338.71" x2="55.0" y2="338.71" stroke="#222" stroke-width="0.7"/>
<line x1="53.0" y1="336.96" x2="55.0" y2="336.96" stroke="#222" stroke-width="0.7"/>
<line x1="53.0" y1="335.72" x2="55.0" y2="335.72" stroke="#222" stroke-width="0.7"/>
<line x1="53.0" y1="334.75" x2="55.0" y2="334.75" stroke="#222" stroke-width="0.7"/>
<line x1="53.0" y1="333.97" x2="55.0" y2="333.97" stroke="#222" stroke-width="0.7"/>
<line x1="53.0" y1="333.30" x2="55.0" y2="333.30" stroke="#222" stroke-width="0.7"/>
<line x1="53.0" y1="332.72" x2="55.0" y2="332.72" stroke="#222" stroke-width="0.7"/>
<line x1="53.0" y1="332.21" x2="55.0" y2="332.21" stroke="#222" stroke-width="0.7"/>
<line x1="52.8" y1="341.70" x2="55.0" y2="341.70" stroke="#222" stroke-width="0.8"/>
<line x1="53.0" y1="328.77" x2="55.0" y2="328.77" stroke="#222" stroke-width="0.7"/>
<line x1="53.0" y1="327.02" x2="55.0" y2="327.02" stroke="#222" stroke-width="0.7"/>
<line x1="53.0" y1="325.78" x2="55.0" y2="325.78" stroke="#222" stroke-width="0.7"/>
<line x1="53.0" y1="324.81" x2="55.0" y2="324.81" stroke="#222" stroke-width="0.7"/>
<line x1="53.0" y1="324.03" x2="55.0" y2="324.03" stroke="#222" stroke-width="0.7"/>
<line x1="53.0" y1="323.36" x2="55.0" y2="323.36" stroke="#222" stroke-width="0.7"/>
<line x1="53.0" y1="322.78" x2="55.0" y2="322.78" stroke="#222" stroke-width="0.7"/>
<line x1="53.0" y1="322.27" x2="55.0" y2="322.27" stroke="#222" stroke-width="0.7"/>
<line x1="53.0" y1="318.83" x2="55.0" y2="318.83" stroke="#222" stroke-width="0.7"/>
<line x1="53.0" y1="317.08" x2="55.0" y2="317.08" stroke="#222" stroke-width="0.7"/>
<line x1="53.0" y1="315.84" x2="55.0" y2="315.84" stroke="#222" stroke-width="0.7"/>
<line x1="53.0" y1="314.87" x2="55.0" y2="314.87" stroke="#222" stroke-width="0.7"/>
<line x1="53.0" y1="314.09" x2="55.0" y2="314.09" stroke="#222" stroke-width="0.7"/>
<line x1="53.0" y1="313.42" x2="55.0" y2="313.42" stroke="#222" stroke-width="0.7"/>
<line x1="53.0" y1="312.84" x2="55.0" y2="312.84" stroke="#222" stroke-width="0.7"/>
<line x1="53.0" y1="312.33" x2="55.0" y2="312.33" stroke="#222" stroke-width="0.7"/>
<line x1="52.8" y1="321.82" x2="55.0" y2="321.82" stroke="#222" stroke-width="0.8"/>
<line x1="53.0" y1="308.89" x2="55.0" y2="308.89" stroke="#222" stroke-width="0.7"/>
<line x1="53.0" y1="307.14" x2="55.0" y2="307.14" stroke="#222" stroke-width="0.7"/>
<line x1="53.0" y1="305.90" x2="55.0" y2="305.90" stroke="#222" stroke-width="0.7"/>
<line x1="53.0" y1="304.93" x2="55.0" y2="304.93" stroke="#222" stroke-width="0.7"/>
<line x1="53.0" y1="304.15" x2="55.0" y2="304.15" stroke="#222" stroke-width="0.7"/>
<line x1="53.0" y1="303.48" x2="55.0" y2="303.48" stroke="#222" stroke-width="0.7"/>
<line x1="53.0" y1="302.90" x2="55.0" y2="302.90" stroke="#222" stroke-width="0.7"/>
<line x1="53.0" y1="302.39" x2="55.0" y2="302.39" stroke="#222" stroke-width="0.7"/>
<line x1="53.0" y1="298.95" x2="55.0" y2="298.95" stroke="#222" stroke-width="0.7"/>
<line x1="53.0" y1="297.20" x2="55.0" y2="297.20" stroke="#222" stroke-width="0.7"/>
<line x1="53.0" y1="295.96" x2="55.0" y2="295.96" stroke="#222" stroke-width="0.7"/>
<line x1="53.0" y1="294.99" x2="55.0" y2="294.99" stroke="#222" stroke-width="0.7"/>
<line x1="53.0" y1="294.21" x2="55.0" y2="294.21" stroke="#222" stroke-width="0.7"/>
<line x1="53.0" y1="293.54" x2="55.0" y2="293.54" stroke="#222" stroke-width="0.7"/>
<line x1="53.0" y1="292.96" x2="55.0" y2="292.96" stroke="#222" stroke-width="0.7"/>
<line x1="53.0" y1="292.45" x2="55.0" y2="292.45" stroke="#222" stroke-width="0.7"/>
<line x1="52.8" y1="301.94" x2="55.0" y2="301.94" stroke="#222" stroke-width="0.8"/>
<line x1="53.0" y1="289.01" x2="55.0" y2="289.01" stroke="#222" stroke-width="0.7"/>
<line x1="53.0" y1="287.26" x2="55.0" y2="287.26" stroke="#222" stroke-width="0.7"/>
<line x1="53.0" y1="286.02" x2="55.0" y2="286.02" stroke="#222" stroke-width="0.7"/>
<line x1="53.0" y1="285.05" x2="55.0" y2="285.05" stroke="#222" stroke-width="0.7"/>
<line x1="53.0" y1="284.27" x2="55.0" y2="284.27" stroke="#222" stroke-width="0.7"/>
<line x1="53.0" y1="283.60" x2="55.0" y2="283.60" stroke="#222" stroke-width="0.7"/>
<line x1="53.0" y1="283.02" x2="55.0" y2="283.02" stroke="#222" stroke-width="0.7"/>
<line x1="53.0" y1="282.51" x2="55.0" y2="282.51" stroke="#222" stroke-width="0.7"/>
<line x1="52.8" y1="282.06" x2="55.0" y2="282.06" stroke="#222" stroke-width="0.8"/>
<line x1="65.5" y1="380.6" x2="65.5" y2="384" stroke="#222" stroke-width="1"/>
<text class="tk" style="font-size:8.7px" x="0" y="0" text-anchor="end" transform="translate(70.3,389.8) rotate(-45)">RL</text>
<line x1="86.9" y1="380.6" x2="86.9" y2="384" stroke="#222" stroke-width="1"/>
<text class="tk" style="font-size:8.7px" x="0" y="0" text-anchor="end" transform="translate(91.7,389.8) rotate(-45)">SU-DHL4</text>
<line x1="108.2" y1="380.6" x2="108.2" y2="384" stroke="#222" stroke-width="1"/>
<text class="tk" style="font-size:8.7px" x="0" y="0" text-anchor="end" transform="translate(113.0,389.8) rotate(-45)">DOHH2</text>
<line x1="129.6" y1="380.6" x2="129.6" y2="384" stroke="#222" stroke-width="1"/>
<text class="tk" style="font-size:8.7px" x="0" y="0" text-anchor="end" transform="translate(134.4,389.8) rotate(-45)">FL B cells</text>
<text x="0" y="0" font-size="10.2" fill="#111" stroke="#111" stroke-width="0.25" text-anchor="middle" textLength="79" lengthAdjust="spacingAndGlyphs" transform="translate(25.4,330) rotate(-90)">EVs for 10.000 B cells</text>
<line x1="56" y1="289" x2="72.8" y2="289" stroke="#111" stroke-width="0.9"/>
<circle cx="58.60" cy="289.30" r="2.6" fill="#b0122e"/>
<circle cx="60.25" cy="288.40" r="2.6" fill="#b0122e"/>
<circle cx="61.90" cy="289.50" r="2.6" fill="#b0122e"/>
<circle cx="63.55" cy="288.30" r="2.6" fill="#b0122e"/>
<circle cx="65.20" cy="289.30" r="2.6" fill="#b0122e"/>
<circle cx="66.85" cy="288.70" r="2.6" fill="#b0122e"/>
<circle cx="68.50" cy="289.40" r="2.6" fill="#b0122e"/>
<line x1="77.5" y1="295.4" x2="94" y2="295.4" stroke="#111" stroke-width="0.9"/>
<rect x="77.6" y="292.9" width="4" height="5" fill="#2a4a80"/>
<rect x="80.19999999999999" y="292.5" width="4" height="5" fill="#2a4a80"/>
<rect x="82.8" y="293.2" width="4" height="5" fill="#2a4a80"/>
<rect x="85.39999999999999" y="292.7" width="4" height="5" fill="#2a4a80"/>
<rect x="88.0" y="293.29999999999995" width="4" height="5" fill="#2a4a80"/>
<rect x="90.0" y="293.0" width="4" height="5" fill="#2a4a80"/>
<line x1="109" y1="289.6" x2="116.3" y2="289.6" stroke="#111" stroke-width="0.9"/>
<path d="M98.80,293.47 L104.80,293.47 L101.80,288.56Z" fill="#6bb043"/>
<path d="M101.80,291.07 L107.80,291.07 L104.80,286.17Z" fill="#6bb043"/>
<path d="M104.60,291.27 L110.60,291.27 L107.60,286.37Z" fill="#6bb043"/>
<path d="M107.20,293.07 L113.20,293.07 L110.20,288.17Z" fill="#6bb043"/>
<path d="M109.60,293.67 L115.60,293.67 L112.60,288.77Z" fill="#6bb043"/>
<line x1="121.6" y1="304.3" x2="137" y2="304.3" stroke="#111" stroke-width="0.9"/>
<path d="M121.30,303.90 L123.90,301.04 L126.50,303.90 L123.90,306.76Z" fill="#4d2068"/>
<path d="M123.50,305.20 L126.10,302.34 L128.70,305.20 L126.10,308.06Z" fill="#4d2068"/>
<path d="M125.70,304.50 L128.30,301.64 L130.90,304.50 L128.30,307.36Z" fill="#4d2068"/>
<path d="M127.90,303.50 L130.50,300.64 L133.10,303.50 L130.50,306.36Z" fill="#4d2068"/>
<path d="M130.10,304.10 L132.70,301.24 L135.30,304.10 L132.70,306.96Z" fill="#4d2068"/>
<path d="M131.70,304.50 L134.30,301.64 L136.90,304.50 L134.30,307.36Z" fill="#4d2068"/>
</g>
<g id="panelD">
<text class="lbl" x="0" y="0" transform="translate(158.3,264.1) scale(1.108,1)">D</text>
<rect x="207" y="277.65" width="14.3" height="102.85" fill="#a50f2d"/>
<line x1="214.15" y1="380.5" x2="214.15" y2="384.1" stroke="#222" stroke-width="1"/>
<text class="tk" style="font-size:9.0px" x="0" y="0" text-anchor="end" transform="translate(218.55,389.5) rotate(-45)">CTRL</text>
<path d="M235.55,376.18 V372.89 M231.25,372.89 H239.85" stroke="#222" stroke-width="1.1" fill="none"/>
<rect x="228.4" y="376.18" width="14.3" height="4.32" fill="#2b4a7f"/>
<text x="235.55" y="373.69" font-size="9.2" fill="#111" text-anchor="middle" textLength="10.4" lengthAdjust="spacingAndGlyphs">***</text>
<line x1="235.55" y1="380.5" x2="235.55" y2="384.1" stroke="#222" stroke-width="1"/>
<text class="tk" style="font-size:9.0px" x="0" y="0" text-anchor="end" transform="translate(239.95,389.5) rotate(-45)">4°C</text>
<path d="M257.05,309.22 V299.15 M252.75,299.15 H261.35" stroke="#222" stroke-width="1.1" fill="none"/>
<rect x="249.9" y="309.22" width="14.3" height="71.28" fill="#2b4a7f"/>
<text x="257.05" y="299.95" font-size="9.2" fill="#111" text-anchor="middle" textLength="3.5" lengthAdjust="spacingAndGlyphs">*</text>
<line x1="257.05" y1="380.5" x2="257.05" y2="384.1" stroke="#222" stroke-width="1"/>
<text class="tk" style="font-size:9.0px" x="0" y="0" text-anchor="end" transform="translate(261.45,389.5) rotate(-45)">EDTA</text>
<path d="M278.45,341.73 V327.02 M274.15,327.02 H282.75" stroke="#222" stroke-width="1.1" fill="none"/>
<rect x="271.3" y="341.73" width="14.3" height="38.77" fill="#69ac41"/>
<text x="278.45" y="327.82" font-size="9.2" fill="#111" text-anchor="middle" textLength="10.4" lengthAdjust="spacingAndGlyphs">***</text>
<line x1="278.45" y1="380.5" x2="278.45" y2="384.1" stroke="#222" stroke-width="1"/>
<text class="tk" style="font-size:9.0px" x="0" y="0" text-anchor="end" transform="translate(282.85,389.5) rotate(-45)">Sucrose</text>
<path d="M299.95,350.98 V334.22 M295.65,334.22 H304.25" stroke="#222" stroke-width="1.1" fill="none"/>
<rect x="292.8" y="350.98" width="14.3" height="29.52" fill="#69ac41"/>
<text x="299.95" y="335.02" font-size="9.2" fill="#111" text-anchor="middle" textLength="10.4" lengthAdjust="spacingAndGlyphs">***</text>
<line x1="299.95" y1="380.5" x2="299.95" y2="384.1" stroke="#222" stroke-width="1"/>
<text class="tk" style="font-size:9.0px" x="0" y="0" text-anchor="end" transform="translate(304.35,389.5) rotate(-45)">Cytochalasine</text>
<path d="M321.45,322.29 V309.94 M317.15,309.94 H325.75" stroke="#222" stroke-width="1.1" fill="none"/>
<rect x="314.3" y="322.29" width="14.3" height="58.21" fill="#532567"/>
<text x="321.45" y="310.74" font-size="9.2" fill="#111" text-anchor="middle" textLength="10.4" lengthAdjust="spacingAndGlyphs">***</text>
<line x1="321.45" y1="380.5" x2="321.45" y2="384.1" stroke="#222" stroke-width="1"/>
<text class="tk" style="font-size:9.0px" x="0" y="0" text-anchor="end" transform="translate(325.85,389.5) rotate(-45)">Dynasore</text>
<line x1="202.8" y1="277.65" x2="333.5" y2="277.65" stroke="#c43a5b" stroke-width="1.3" stroke-dasharray="3.3 2.1"/>
<path class="ax" d="M202.8,275.15 V380.5 H333.2" stroke-width="1.4"/>
<line x1="199.0" y1="380.50" x2="202.8" y2="380.50" stroke="#222" stroke-width="1"/>
<text class="tk" x="196.60000000000002" y="383.60" text-anchor="end">0</text>
<line x1="199.0" y1="354.79" x2="202.8" y2="354.79" stroke="#222" stroke-width="1"/>
<text class="tk" x="196.60000000000002" y="357.89" text-anchor="end">25</text>
<line x1="199.0" y1="329.07" x2="202.8" y2="329.07" stroke="#222" stroke-width="1"/>
<text class="tk" x="196.60000000000002" y="332.18" text-anchor="end">50</text>
<line x1="199.0" y1="303.36" x2="202.8" y2="303.36" stroke="#222" stroke-width="1"/>
<text class="tk" x="196.60000000000002" y="306.46" text-anchor="end">75</text>
<line x1="199.0" y1="277.65" x2="202.8" y2="277.65" stroke="#222" stroke-width="1"/>
<text class="tk" x="196.60000000000002" y="280.75" text-anchor="end">100</text>
<line x1="200.60000000000002" y1="367.64" x2="202.8" y2="367.64" stroke="#222" stroke-width="0.8"/>
<line x1="200.60000000000002" y1="341.93" x2="202.8" y2="341.93" stroke="#222" stroke-width="0.8"/>
<line x1="200.60000000000002" y1="316.22" x2="202.8" y2="316.22" stroke="#222" stroke-width="0.8"/>
<line x1="200.60000000000002" y1="290.51" x2="202.8" y2="290.51" stroke="#222" stroke-width="0.8"/>
<text x="0" y="0" font-size="10" fill="#111" stroke="#111" stroke-width="0.25" text-anchor="middle" textLength="62.5" lengthAdjust="spacingAndGlyphs" transform="translate(176.0,327.3) rotate(-90)">CellTrace MFI (%)</text>
</g>
<g id="panelE">
<text class="lbl" x="0" y="0" transform="translate(350.0,264.0) scale(0.953,1.02)">E</text>
<path class="ax" d="M402.5,273.50 V380.7 H510.8" stroke-width="1.4"/>
<line x1="398.9" y1="380.70" x2="402.5" y2="380.70" stroke="#222" stroke-width="1"/>
<text class="tk" x="396.0" y="383.80" text-anchor="end">0</text>
<line x1="398.9" y1="345.70" x2="402.5" y2="345.70" stroke="#222" stroke-width="1"/>
<text class="tk" x="396.0" y="348.80" text-anchor="end">20</text>
<line x1="398.9" y1="310.70" x2="402.5" y2="310.70" stroke="#222" stroke-width="1"/>
<text class="tk" x="396.0" y="313.80" text-anchor="end">40</text>
<line x1="398.9" y1="275.70" x2="402.5" y2="275.70" stroke="#222" stroke-width="1"/>
<text class="tk" x="396.0" y="278.80" text-anchor="end">60</text>
<line x1="419.5" y1="380.7" x2="419.5" y2="384.5" stroke="#222" stroke-width="1"/>
<text class="tk" style="font-size:8.9px" x="0" y="0" text-anchor="end" transform="translate(424.70,390.3) rotate(-45)">FL B cells alone</text>
<line x1="455.5" y1="380.7" x2="455.5" y2="384.5" stroke="#222" stroke-width="1"/>
<text class="tk" style="font-size:8.9px" x="0" y="0" text-anchor="end" transform="translate(460.70,390.3) rotate(-45)">Untreated BM-MSC</text>
<line x1="491.3" y1="380.7" x2="491.3" y2="384.5" stroke="#222" stroke-width="1"/>
<text class="tk" style="font-size:8.9px" x="0" y="0" text-anchor="end" transform="translate(496.50,390.3) rotate(-45)">EV-primed BM-MSC</text>
<text x="0" y="0" font-size="9.7" fill="#111" stroke="#111" stroke-width="0.25" text-anchor="middle" textLength="50" lengthAdjust="spacingAndGlyphs" transform="translate(366.3,326.4) rotate(-90)">Percentage of</text>
<text x="0" y="0" font-size="9.7" fill="#111" stroke="#111" stroke-width="0.25" text-anchor="middle" textLength="68.5" lengthAdjust="spacingAndGlyphs" transform="translate(378.4,326.6) rotate(-90)">apoptotic FL B cells</text>
<path d="M419.3,270.4 H490 M419.3,267.6 V273.2 M490,267.6 V273.2" stroke="#222" stroke-width="1" fill="none"/>
<path d="M419.3,281 H455.4 M419.3,278 V284 M455.4,278 V284 M457.6,281 H490 M457.6,278 V284 M490,278 V284" stroke="#222" stroke-width="1.2" fill="none"/>
<text x="454.6" y="270.7" font-size="9.5" fill="#1a1a1a" text-anchor="middle">*</text>
<text x="437" y="281.0" font-size="9.5" fill="#1a1a1a" text-anchor="middle">*</text>
<text x="473.8" y="281.0" font-size="9.5" fill="#1a1a1a" text-anchor="middle">*</text>
<line x1="407.5" y1="336" x2="432" y2="336" stroke="#111" stroke-width="1.25"/>
<line x1="443.8" y1="346.3" x2="468.3" y2="346.3" stroke="#111" stroke-width="1.25"/>
<line x1="479.3" y1="353.9" x2="503.8" y2="353.9" stroke="#111" stroke-width="1.25"/>
<path d="M413.80,291.77 L418.80,291.77 L416.30,287.69Z" fill="#a50f2d"/>
<circle cx="422.8" cy="286.5" r="2.25" fill="#a50f2d"/>
<path d="M416.60,323.00 L419.50,319.81 L422.40,323.00 L419.50,326.19Z" fill="#fff" stroke="#a50f2d" stroke-width="1.2"/>
<circle cx="419.5" cy="336" r="2.25" fill="#a50f2d"/>
<rect x="414.2" y="346.9" width="4.2" height="4.2" fill="#a50f2d"/>
<path d="M420.50,348.83 L425.50,348.83 L423.00,352.91Z" fill="#a50f2d"/>
<path d="M416.70,365.30 L419.50,362.22 L422.30,365.30 L419.50,368.38Z" fill="#a50f2d"/>
<circle cx="455.5" cy="288.5" r="2.25" fill="#a50f2d"/>
<path d="M452.60,325.80 L455.50,322.61 L458.40,325.80 L455.50,328.99Z" fill="#fff" stroke="#a50f2d" stroke-width="1.2"/>
<path d="M449.70,346.30 L452.50,343.22 L455.30,346.30 L452.50,349.38Z" fill="#a50f2d"/>
<path d="M456.60,347.67 L461.60,347.67 L459.10,343.59Z" fill="#a50f2d"/>
<path d="M453.00,354.33 L458.00,354.33 L455.50,358.41Z" fill="#a50f2d"/>
<rect x="456.7" y="363.2" width="4.2" height="4.2" fill="#a50f2d"/>
<path d="M449.50,371.50 L452.30,368.42 L455.10,371.50 L452.30,374.58Z" fill="#a50f2d"/>
<circle cx="491.5" cy="308.3" r="2.25" fill="#a50f2d"/>
<path d="M488.60,329.30 L491.50,326.11 L494.40,329.30 L491.50,332.49Z" fill="#fff" stroke="#a50f2d" stroke-width="1.2"/>
<path d="M485.80,355.77 L490.80,355.77 L488.30,351.69Z" fill="#a50f2d"/>
<path d="M492.20,354.20 L495.00,351.12 L497.80,354.20 L495.00,357.28Z" fill="#a50f2d"/>
<path d="M485.80,361.83 L490.80,361.83 L488.30,365.91Z" fill="#a50f2d"/>
<rect x="492.4" y="365.2" width="4.2" height="4.2" fill="#a50f2d"/>
<path d="M488.50,375.50 L491.30,372.42 L494.10,375.50 L491.30,378.58Z" fill="#a50f2d"/>
</g>
<rect x="0" y="0" width="520" height="1" fill="#000"/><rect x="0" y="0" width="1.1" height="455" fill="#000"/>
<rect x="518.7" y="0" width="1.3" height="455" fill="#000"/><rect x="0" y="453.4" width="520" height="1.6" fill="#000"/>
</svg></body></html>
